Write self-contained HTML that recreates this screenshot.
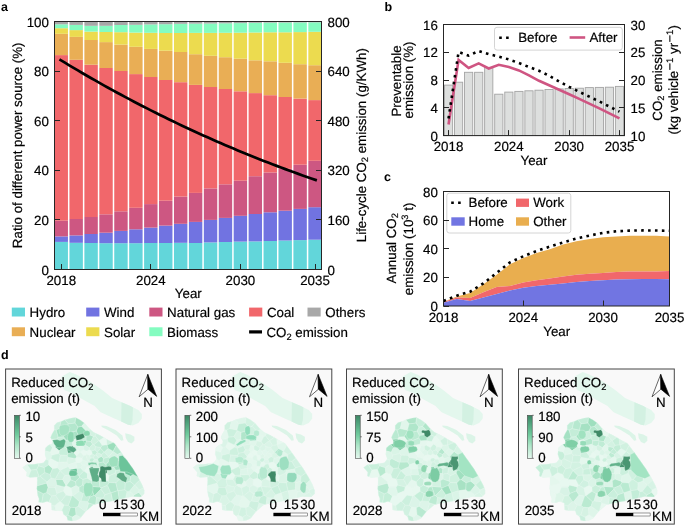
<!DOCTYPE html>
<html><head><meta charset="utf-8"><style>
html,body{margin:0;padding:0;background:#fff;}
svg{display:block;font-family:"Liberation Sans",sans-serif;will-change:transform;text-rendering:geometricPrecision;}
text{stroke:#000;stroke-width:0.18px;}
</style></head><body>
<svg width="685" height="526" viewBox="0 0 685 526">
<defs><linearGradient id="cbar" x1="0" y1="1" x2="0" y2="0"><stop offset="0" stop-color="#e4f7ee"/><stop offset="0.3" stop-color="#ade6c8"/><stop offset="0.55" stop-color="#70cb9d"/><stop offset="0.8" stop-color="#52a67f"/><stop offset="1" stop-color="#3c8664"/></linearGradient><g id="mapbase"><polygon points="54.3,425.4 57.1,422.5 61.1,421.4 65.1,419.7 71.4,418.0 75.4,417.4 79.9,419.7 84.5,423.1 89.0,428.3 93.6,432.2 100.0,435.3 104.0,437.5 108.5,440.2 114.6,443.4 121.4,452.6 127.1,460.5 132.8,468.5 138.0,477.1 142.0,484.5 144.2,490.2 144.2,493.7 140.8,497.1 132.2,496.6 123.0,498.6 113.8,500.7 102.6,502.7 93.4,504.7 85.2,511.9 80.0,518.5 76.2,520.2 71.1,521.1 67.7,520.2 66.8,516.8 63.4,514.2 62.5,510.8 55.7,510.4 51.8,510.0 51.4,503.1 47.1,501.4 42.8,502.7 38.6,502.3 39.0,498.8 37.7,495.4 36.8,488.6 37.3,480.0 36.9,477.1 30.2,477.5 26.4,476.1 26.9,472.3 24.5,469.5 22.6,467.6 26.4,464.7 34.0,464.2 43.5,462.8 46.4,459.0 44.9,454.3 45.4,448.1 48.3,445.2 52.1,443.8 52.5,441.0 50.5,437.4 52.0,434.0 54.3,430.0" fill="#dcf5e9" /><polygon points="60.5,383.8 61.8,376.5 69.7,371.9 76.3,374.6 89.4,381.1 102.6,390.3 112.1,398.0 123.5,403.1 130.4,406.0 138.3,410.0 141.8,414.0 141.8,418.5 138.3,423.1 132.6,425.4 128.1,424.8 121.2,421.4 112.1,417.4 100.7,412.2 94.7,406.1 82.8,399.5 72.3,393.0 64.5,390.3" fill="#e3f7ed" /><polygon points="121.5,402.2 130.4,406.0 133.0,407.5 132.5,420.0 131.0,425.2 128.1,424.8 121.2,421.4" fill="#d3f1e2" /><polygon points="101.3,425.4 106.4,425.9 115.5,429.9 122.4,435.6 123.5,440.2 121.2,440.8 116.7,435.6 108.7,430.5 101.8,427.0" fill="#dbf4e7" /><polygon points="125.2,433.3 130.4,434.5 134.4,436.8 134.4,440.8 131.5,443.6 128.1,441.9 125.8,437.9" fill="#dbf4e7" /></g><polygon id="v0" points="31.1,470.1 27.2,464.6 26.4,464.7 22.6,467.6 24.5,469.5 26.9,472.3 26.4,476.1 28.4,476.9"/><polygon id="v1" points="50.4,452.2 52.6,447.4 49.9,444.6 48.3,445.2 45.4,448.1 45.2,451.0"/><polygon id="v2" points="31.1,470.1 36.7,469.6 38.7,465.8 38.1,463.6 34.0,464.2 27.2,464.6"/><polygon id="v3" points="28.4,476.9 30.2,477.5 36.9,477.1 37.0,477.8 39.0,476.0 36.7,469.6 31.1,470.1"/><polygon id="v4" points="48.8,460.4 51.0,458.6 51.9,455.2 50.4,452.2 45.2,451.0 44.9,454.3 46.4,459.0 46.0,459.5"/><polygon id="v5" points="43.4,493.7 37.1,490.6 37.7,495.4 39.0,498.8 38.6,502.3 41.8,502.6"/><polygon id="v6" points="37.0,477.8 37.3,480.0 37.0,485.9 46.7,483.2 47.0,482.0 39.9,476.0 39.0,476.0"/><polygon id="v7" points="41.8,502.6 42.8,502.7 47.1,501.4 49.1,502.2 51.6,495.9 46.7,492.4 43.4,493.7"/><polygon id="v8" points="47.0,482.0 51.3,478.0 50.1,474.4 44.9,472.4 39.9,476.0"/><polygon id="v9" points="39.0,476.0 39.9,476.0 44.9,472.4 44.3,467.6 38.7,465.8 36.7,469.6"/><polygon id="v10" points="46.7,483.2 37.0,485.9 36.8,488.6 37.1,490.6 43.4,493.7 46.7,492.4 48.2,487.4"/><polygon id="v11" points="48.2,487.4 55.2,487.4 56.9,485.1 55.8,479.4 55.4,478.9 51.3,478.0 47.0,482.0 46.7,483.2"/><polygon id="v12" points="48.7,464.9 48.8,460.4 46.0,459.5 43.5,462.8 38.1,463.6 38.7,465.8 44.3,467.6"/><polygon id="v13" points="44.3,467.6 44.9,472.4 50.1,474.4 52.7,468.5 48.7,464.9"/><polygon id="v14" points="51.9,455.2 59.0,453.6 59.2,450.6 55.3,446.9 52.6,447.4 50.4,452.2"/><polygon id="v15" points="57.0,439.1 58.2,437.0 56.3,430.1 54.3,429.4 54.3,430.0 52.0,434.0 50.5,437.4 51.6,439.4"/><polygon id="v16" points="54.9,505.5 51.5,505.0 51.8,510.0 55.7,510.4 55.8,510.4"/><polygon id="v17" points="46.7,492.4 51.6,495.9 55.8,495.7 56.9,493.6 55.2,487.4 48.2,487.4"/><polygon id="v18" points="51.3,478.0 55.4,478.9 60.1,470.4 57.7,467.8 52.7,468.5 50.1,474.4"/><polygon id="v19" points="48.7,464.9 52.7,468.5 57.7,467.8 58.7,462.4 51.0,458.6 48.8,460.4"/><polygon id="v20" points="52.6,447.4 55.3,446.9 57.8,441.9 57.0,439.1 51.6,439.4 52.5,441.0 52.1,443.8 49.9,444.6"/><polygon id="v21" points="54.9,505.5 55.8,510.4 61.6,510.7 64.3,504.9 60.7,501.7 59.6,501.5"/><polygon id="v22" points="59.6,501.5 55.8,495.7 51.6,495.9 49.1,502.2 51.4,503.1 51.5,505.0 54.9,505.5"/><polygon id="v23" points="56.9,493.6 63.5,490.9 64.5,486.9 56.9,485.1 55.2,487.4"/><polygon id="v24" points="59.2,450.6 64.6,446.9 64.1,445.0 57.8,441.9 55.3,446.9"/><polygon id="v25" points="56.3,430.1 59.4,428.5 61.1,421.4 57.1,422.5 54.3,425.4 54.3,429.4"/><polygon id="v26" points="56.9,485.1 64.5,486.9 66.0,485.5 62.7,479.4 55.8,479.4"/><polygon id="v27" points="57.0,439.1 57.8,441.9 64.1,445.0 66.4,440.2 63.5,436.6 58.2,437.0"/><polygon id="v28" points="51.0,458.6 58.7,462.4 59.1,462.1 60.3,455.2 59.0,453.6 51.9,455.2"/><polygon id="v29" points="55.8,495.7 59.6,501.5 60.7,501.7 66.2,495.0 63.5,490.9 56.9,493.6"/><polygon id="v30" points="55.8,479.4 62.7,479.4 64.9,475.4 60.1,470.4 60.1,470.4 55.4,478.9"/><polygon id="v31" points="57.7,467.8 60.1,470.4 60.1,470.4 68.4,466.5 68.5,464.8 67.0,462.0 59.1,462.1 58.7,462.4"/><polygon id="v32" points="68.2,423.9 75.1,423.1 75.7,417.6 75.4,417.4 71.4,418.0 65.1,419.7 64.9,419.8"/><polygon id="v33" points="68.0,515.1 70.5,507.3 68.4,505.4 64.3,504.9 61.6,510.7 62.5,510.8 63.4,514.2 65.8,516.1"/><polygon id="v34" points="64.3,504.9 68.4,505.4 71.8,496.1 66.2,495.0 60.7,501.7"/><polygon id="v35" points="60.3,455.2 67.4,455.5 68.2,453.4 66.8,448.2 64.6,446.9 59.2,450.6 59.0,453.6"/><polygon id="v36" points="58.2,437.0 63.5,436.6 67.0,430.7 66.6,430.1 59.4,428.5 56.3,430.1"/><polygon id="v37" points="59.1,462.1 67.0,462.0 68.1,457.3 67.4,455.5 60.3,455.2"/><polygon id="v38" points="66.0,485.5 66.4,485.4 70.8,479.7 70.0,475.0 64.9,475.4 62.7,479.4"/><polygon id="v39" points="64.5,486.9 63.5,490.9 66.2,495.0 71.8,496.1 72.6,495.7 71.2,488.0 66.4,485.4 66.0,485.5"/><polygon id="v40" points="66.4,440.2 70.5,439.5 70.7,432.4 67.0,430.7 63.5,436.6"/><polygon id="v41" points="67.0,462.0 68.5,464.8 76.0,462.3 75.6,458.5 68.1,457.3"/><polygon id="v42" points="64.9,475.4 70.0,475.0 70.1,474.9 70.4,469.5 68.4,466.5 60.1,470.4"/><polygon id="v43" points="68.2,453.4 73.6,452.2 74.9,449.7 73.0,445.4 72.9,445.4 66.8,448.2"/><polygon id="v44" points="64.6,446.9 66.8,448.2 72.9,445.4 72.0,440.5 70.5,439.5 66.4,440.2 64.1,445.0"/><polygon id="v45" points="66.6,430.1 68.2,423.9 64.9,419.8 61.1,421.4 61.1,421.4 59.4,428.5"/><polygon id="v46" points="72.3,517.1 68.0,515.1 65.8,516.1 66.8,516.8 67.7,520.2 71.1,521.1 73.0,520.8"/><polygon id="v47" points="68.4,505.4 70.5,507.3 75.5,507.7 78.3,506.2 79.6,501.8 73.2,495.8 72.6,495.7 71.8,496.1"/><polygon id="v48" points="68.0,515.1 72.3,517.1 76.1,514.8 75.5,507.7 70.5,507.3"/><polygon id="v49" points="70.7,432.4 76.3,431.0 78.1,427.0 75.1,423.1 68.2,423.9 66.6,430.1 67.0,430.7"/><polygon id="v50" points="68.1,457.3 75.6,458.5 76.7,456.9 76.7,456.3 73.6,452.2 68.2,453.4 67.4,455.5"/><polygon id="v51" points="70.5,439.5 72.0,440.5 78.1,438.0 78.5,435.4 76.3,431.0 70.7,432.4"/><polygon id="v52" points="68.4,466.5 70.4,469.5 76.9,468.4 76.5,462.7 76.0,462.3 68.5,464.8"/><polygon id="v53" points="76.1,514.8 72.3,517.1 73.0,520.8 76.2,520.2 80.0,518.5 80.9,517.4"/><polygon id="v54" points="76.3,431.0 78.5,435.4 86.1,434.6 86.9,433.6 87.0,431.7 81.7,426.3 78.1,427.0"/><polygon id="v55" points="70.1,474.9 78.0,474.8 76.9,468.5 76.9,468.4 70.4,469.5"/><polygon id="v56" points="66.4,485.4 71.2,488.0 76.2,485.6 75.5,481.8 70.8,479.7"/><polygon id="v57" points="72.6,495.7 73.2,495.8 79.3,491.2 79.1,487.3 76.2,485.6 71.2,488.0"/><polygon id="v58" points="79.6,501.8 81.2,500.9 83.3,493.7 79.3,491.2 73.2,495.8"/><polygon id="v59" points="76.0,462.3 76.5,462.7 80.8,462.7 82.6,459.9 82.1,458.0 76.7,456.9 75.6,458.5"/><polygon id="v60" points="72.9,445.4 73.0,445.4 79.4,444.2 79.8,440.7 78.1,438.0 72.0,440.5"/><polygon id="v61" points="76.1,514.8 80.9,517.4 85.2,511.9 85.6,511.5 78.3,506.2 75.5,507.7"/><polygon id="v62" points="70.0,475.0 70.8,479.7 75.5,481.8 79.7,477.5 79.1,475.7 78.0,474.8 70.1,474.9"/><polygon id="v63" points="75.1,423.1 78.1,427.0 81.7,426.3 84.4,423.0 79.9,419.7 75.7,417.6"/><polygon id="v64" points="73.6,452.2 76.7,456.3 80.2,451.9 78.7,449.9 74.9,449.7"/><polygon id="v65" points="75.5,481.8 76.2,485.6 79.1,487.3 82.7,485.1 83.0,479.5 79.7,477.5"/><polygon id="v66" points="76.9,468.4 76.9,468.5 80.9,468.1 82.4,465.1 80.8,462.7 76.5,462.7"/><polygon id="v67" points="79.1,475.7 83.7,471.2 80.9,468.1 76.9,468.5 78.0,474.8"/><polygon id="v68" points="88.6,503.0 86.4,510.8 93.4,504.7 94.2,504.5"/><polygon id="v69" points="80.2,451.9 80.5,452.0 83.8,449.8 83.4,446.2 80.2,445.3 78.7,449.9"/><polygon id="v70" points="74.9,449.7 78.7,449.9 80.2,445.3 79.4,444.2 73.0,445.4"/><polygon id="v71" points="79.7,477.5 83.0,479.5 87.3,478.2 87.6,473.7 84.5,471.2 83.7,471.2 79.1,475.7"/><polygon id="v72" points="83.4,446.2 85.3,445.2 86.4,440.7 86.1,440.3 79.8,440.7 79.4,444.2 80.2,445.3"/><polygon id="v73" points="78.3,506.2 85.6,511.5 86.4,510.8 88.6,503.0 87.9,501.7 81.2,500.9 79.6,501.8"/><polygon id="v74" points="79.3,491.2 83.3,493.7 85.1,493.3 87.9,487.5 82.7,485.1 79.1,487.3"/><polygon id="v75" points="82.4,465.1 86.2,465.2 86.4,461.1 82.6,459.9 80.8,462.7"/><polygon id="v76" points="76.7,456.9 82.1,458.0 83.7,455.7 80.5,452.0 80.2,451.9 76.7,456.3"/><polygon id="v77" points="83.7,455.7 86.1,455.1 86.6,454.6 87.0,451.3 83.8,449.8 80.5,452.0"/><polygon id="v78" points="82.6,459.9 86.4,461.1 87.5,460.2 86.1,455.1 83.7,455.7 82.1,458.0"/><polygon id="v79" points="80.9,468.1 83.7,471.2 84.5,471.2 87.2,466.2 86.2,465.2 82.4,465.1"/><polygon id="v80" points="78.1,438.0 79.8,440.7 86.1,440.3 86.1,434.6 78.5,435.4"/><polygon id="v81" points="81.7,426.3 87.0,431.7 90.1,429.3 89.0,428.3 84.5,423.1 84.4,423.0"/><polygon id="v82" points="85.3,445.2 89.5,447.8 92.6,444.2 91.0,441.6 86.4,440.7"/><polygon id="v83" points="87.0,451.3 89.4,449.4 89.5,447.8 85.3,445.2 83.4,446.2 83.8,449.8"/><polygon id="v84" points="83.3,493.7 81.2,500.9 87.9,501.7 90.2,496.8 85.1,493.3"/><polygon id="v85" points="87.6,473.7 90.3,472.1 90.3,466.9 89.8,466.6 87.2,466.2 84.5,471.2"/><polygon id="v86" points="82.7,485.1 87.9,487.5 90.9,486.6 91.1,486.4 91.5,480.7 87.3,478.2 83.0,479.5"/><polygon id="v87" points="87.2,466.2 89.8,466.6 90.9,462.0 89.3,460.2 87.5,460.2 86.4,461.1 86.2,465.2"/><polygon id="v88" points="88.6,503.0 94.2,504.5 95.8,504.2 96.6,497.6 94.8,495.5 94.0,495.3 90.2,496.8 87.9,501.7"/><polygon id="v89" points="86.6,454.6 89.7,455.5 92.3,453.9 91.7,451.0 89.4,449.4 87.0,451.3"/><polygon id="v90" points="86.1,455.1 87.5,460.2 89.3,460.2 90.6,458.2 89.7,455.5 86.6,454.6"/><polygon id="v91" points="86.1,434.6 86.1,440.3 86.4,440.7 91.0,441.6 93.5,436.4 86.9,433.6"/><polygon id="v92" points="87.9,487.5 85.1,493.3 90.2,496.8 94.0,495.3 90.9,486.6"/><polygon id="v93" points="106.7,444.7 107.1,445.0 113.1,442.6 108.5,440.2 106.3,438.9"/><polygon id="v94" points="91.5,480.7 94.8,478.7 95.5,473.7 90.3,472.1 87.6,473.7 87.3,478.2"/><polygon id="v95" points="89.4,449.4 91.7,451.0 95.1,449.9 95.5,446.5 94.1,444.5 92.6,444.2 89.5,447.8"/><polygon id="v96" points="90.6,458.2 93.5,458.1 94.5,455.1 92.3,453.9 89.7,455.5"/><polygon id="v97" points="90.9,486.6 94.0,495.3 94.8,495.5 101.0,489.1 101.0,488.1 99.9,487.0 91.1,486.4"/><polygon id="v98" points="92.6,444.2 94.1,444.5 99.0,440.6 95.2,435.8 93.5,436.4 91.0,441.6"/><polygon id="v99" points="86.9,433.6 93.5,436.4 95.2,435.8 96.3,433.5 93.6,432.2 90.1,429.3 87.0,431.7"/><polygon id="v100" points="89.8,466.6 90.3,466.9 92.9,466.8 95.5,464.2 93.3,461.6 90.9,462.0"/><polygon id="v101" points="103.5,498.3 96.6,497.6 95.8,504.2 102.6,502.7 105.5,502.2"/><polygon id="v102" points="118.0,490.7 117.7,490.5 110.9,492.8 112.6,500.9 113.8,500.7 119.4,499.4"/><polygon id="v103" points="96.6,497.6 103.5,498.3 104.9,494.7 101.0,489.1 94.8,495.5"/><polygon id="v104" points="89.3,460.2 90.9,462.0 93.3,461.6 94.2,459.3 93.5,458.1 90.6,458.2"/><polygon id="v105" points="94.2,459.3 97.8,459.6 98.5,457.9 95.8,454.7 94.5,455.1 93.5,458.1"/><polygon id="v106" points="95.2,435.8 99.0,440.6 99.3,440.7 103.8,437.4 100.0,435.3 96.3,433.5"/><polygon id="v107" points="92.3,453.9 94.5,455.1 95.8,454.7 97.3,452.4 97.3,452.2 95.1,449.9 91.7,451.0"/><polygon id="v108" points="90.3,472.1 95.5,473.7 95.5,473.7 95.9,470.3 92.9,466.8 90.3,466.9"/><polygon id="v109" points="95.5,464.2 98.2,463.9 98.9,462.9 97.8,459.6 94.2,459.3 93.3,461.6"/><polygon id="v110" points="91.1,486.4 99.9,487.0 99.4,480.7 94.8,478.7 91.5,480.7"/><polygon id="v111" points="92.9,466.8 95.9,470.3 99.3,467.4 98.2,463.9 95.5,464.2"/><polygon id="v112" points="95.1,449.9 97.3,452.2 100.8,448.3 100.8,447.5 95.5,446.5"/><polygon id="v113" points="95.5,473.7 101.6,473.5 101.9,468.7 99.3,467.4 95.9,470.3"/><polygon id="v114" points="98.5,457.9 101.6,456.5 101.8,454.5 97.3,452.4 95.8,454.7"/><polygon id="v115" points="97.3,452.4 101.8,454.5 104.0,452.2 100.8,448.3 97.3,452.2"/><polygon id="v116" points="97.8,459.6 98.9,462.9 103.1,462.0 103.5,458.6 101.6,456.5 98.5,457.9"/><polygon id="v117" points="94.8,478.7 99.4,480.7 102.2,479.1 102.3,474.1 101.6,473.5 95.5,473.7 95.5,473.7"/><polygon id="v118" points="98.2,463.9 99.3,467.4 101.9,468.7 106.6,466.7 106.1,464.5 103.1,462.0 98.9,462.9"/><polygon id="v119" points="95.5,446.5 100.8,447.5 102.2,445.2 99.3,440.7 99.0,440.6 94.1,444.5"/><polygon id="v120" points="100.8,448.3 104.0,452.2 104.4,452.2 108.2,448.4 107.1,445.0 106.7,444.7 102.2,445.2 100.8,447.5"/><polygon id="v121" points="99.9,487.0 101.0,488.1 107.6,485.3 109.1,482.5 108.4,481.2 102.2,479.1 99.4,480.7"/><polygon id="v122" points="133.8,494.9 129.6,491.2 127.0,491.4 125.6,498.0 132.2,496.6 133.7,496.7"/><polygon id="v123" points="105.5,502.2 112.6,500.9 110.9,492.8 110.7,492.7 104.9,494.7 103.5,498.3"/><polygon id="v124" points="104.9,494.7 110.7,492.7 107.6,485.3 101.0,488.1 101.0,489.1"/><polygon id="v125" points="102.2,445.2 106.7,444.7 106.3,438.9 104.0,437.5 103.8,437.4 99.3,440.7"/><polygon id="v126" points="101.6,473.5 102.3,474.1 107.1,473.5 107.7,467.6 106.6,466.7 101.9,468.7"/><polygon id="v127" points="101.6,456.5 103.5,458.6 108.8,456.9 108.8,456.4 104.4,452.2 104.0,452.2 101.8,454.5"/><polygon id="v128" points="104.4,452.2 108.8,456.4 113.3,451.5 113.2,451.3 108.2,448.4"/><polygon id="v129" points="107.7,467.6 114.2,467.6 115.7,461.8 110.0,459.5 106.1,464.5 106.6,466.7"/><polygon id="v130" points="102.2,479.1 108.4,481.2 109.2,475.7 107.1,473.5 102.3,474.1"/><polygon id="v131" points="103.1,462.0 106.1,464.5 110.0,459.5 108.8,456.9 103.5,458.6"/><polygon id="v132" points="109.1,482.5 115.9,482.9 118.9,479.7 115.4,472.9 109.2,475.7 108.4,481.2"/><polygon id="v133" points="107.1,473.5 109.2,475.7 115.4,472.9 115.9,470.4 114.2,467.6 107.7,467.6"/><polygon id="v134" points="107.6,485.3 110.7,492.7 110.9,492.8 117.7,490.5 115.9,482.9 109.1,482.5"/><polygon id="v135" points="108.8,456.9 110.0,459.5 115.7,461.8 117.5,460.5 117.5,454.6 113.3,451.5 108.8,456.4"/><polygon id="v136" points="108.2,448.4 113.2,451.3 116.2,445.5 114.6,443.4 113.1,442.6 107.1,445.0"/><polygon id="v137" points="115.9,470.4 124.3,469.1 125.1,467.7 121.5,461.5 117.5,460.5 115.7,461.8 114.2,467.6"/><polygon id="v138" points="113.2,451.3 113.3,451.5 117.5,454.6 121.4,452.6 121.4,452.6 116.2,445.5"/><polygon id="v139" points="115.9,482.9 117.7,490.5 118.0,490.7 124.9,489.8 125.3,482.8 120.5,479.6 118.9,479.7"/><polygon id="v140" points="115.4,472.9 118.9,479.7 120.5,479.6 125.3,473.7 124.3,469.1 115.9,470.4"/><polygon id="v141" points="119.4,499.4 123.0,498.6 125.6,498.0 127.0,491.4 124.9,489.8 118.0,490.7"/><polygon id="v142" points="121.5,461.5 125.4,458.2 121.4,452.6 117.5,454.6 117.5,460.5"/><polygon id="v143" points="120.5,479.6 125.3,482.8 130.0,481.3 130.8,476.2 125.3,473.7"/><polygon id="v144" points="124.3,469.1 125.3,473.7 130.8,476.2 135.5,473.0 132.8,468.5 130.9,465.9 125.1,467.7"/><polygon id="v145" points="121.5,461.5 125.1,467.7 130.9,465.9 127.1,460.5 125.4,458.2"/><polygon id="v146" points="124.9,489.8 127.0,491.4 129.6,491.2 134.5,485.0 130.0,481.3 125.3,482.8"/><polygon id="v147" points="134.5,485.0 134.6,485.0 139.7,480.2 138.0,477.1 135.5,473.0 130.8,476.2 130.0,481.3"/><polygon id="v148" points="138.8,492.2 133.8,494.9 133.7,496.7 140.8,497.1 141.9,496.0"/><polygon id="v149" points="134.6,485.0 139.2,490.0 143.4,488.1 142.0,484.5 139.7,480.2"/><polygon id="v150" points="129.6,491.2 133.8,494.9 138.8,492.2 139.2,490.0 134.6,485.0 134.5,485.0"/><polygon id="v151" points="139.2,490.0 138.8,492.2 141.9,496.0 144.2,493.7 144.2,490.2 143.4,488.1"/><g id="dist0" stroke="#e9f8f0" stroke-width="0.3"><use href="#v0" fill="#e3f7ed"/><use href="#v1" fill="#cdf0de"/><use href="#v2" fill="#c6eeda"/><use href="#v3" fill="#cdf0de"/><use href="#v4" fill="#e0f6eb"/><use href="#v5" fill="#c0ecd6"/><use href="#v6" fill="#ccf0de"/><use href="#v7" fill="#c6eeda"/><use href="#v8" fill="#caefdd"/><use href="#v9" fill="#c4eed8"/><use href="#v10" fill="#a7e2c4"/><use href="#v11" fill="#dcf4e8"/><use href="#v12" fill="#d0f1e1"/><use href="#v13" fill="#b2e7cc"/><use href="#v14" fill="#e6f7ee"/><use href="#v15" fill="#c1edd6"/><use href="#v16" fill="#dcf4e8"/><use href="#v17" fill="#d2f1e1"/><use href="#v18" fill="#caefdc"/><use href="#v19" fill="#e8f8f0"/><use href="#v20" fill="#e0f6eb"/><use href="#v21" fill="#e7f8ef"/><use href="#v22" fill="#d5f2e3"/><use href="#v23" fill="#dcf4e8"/><use href="#v24" fill="#5fb38b"/><use href="#v25" fill="#cef0df"/><use href="#v26" fill="#b1e6cb"/><use href="#v27" fill="#caefdc"/><use href="#v28" fill="#cdf0de"/><use href="#v29" fill="#d1f1e1"/><use href="#v30" fill="#d1f1e1"/><use href="#v31" fill="#e2f6ec"/><use href="#v32" fill="#c0ecd6"/><use href="#v33" fill="#cbf0dd"/><use href="#v34" fill="#cef0df"/><use href="#v35" fill="#c8efdb"/><use href="#v36" fill="#a6e3c4"/><use href="#v37" fill="#d6f3e4"/><use href="#v38" fill="#dbf4e8"/><use href="#v39" fill="#e8f8f0"/><use href="#v40" fill="#a0dfbf"/><use href="#v41" fill="#dbf4e7"/><use href="#v42" fill="#d2f2e2"/><use href="#v43" fill="#59a985"/><use href="#v44" fill="#c4eed9"/><use href="#v45" fill="#b8e9d0"/><use href="#v46" fill="#c0ecd6"/><use href="#v47" fill="#bcebd3"/><use href="#v48" fill="#aee5c9"/><use href="#v49" fill="#b3e7cd"/><use href="#v50" fill="#b2e7cc"/><use href="#v51" fill="#a8e3c5"/><use href="#v52" fill="#e3f6ed"/><use href="#v53" fill="#dff5ea"/><use href="#v54" fill="#94dbb7"/><use href="#v55" fill="#6cc49a"/><use href="#v56" fill="#bbead2"/><use href="#v57" fill="#def5e9"/><use href="#v58" fill="#d5f3e4"/><use href="#v59" fill="#e8f8f0"/><use href="#v60" fill="#e1f6eb"/><use href="#v61" fill="#d1f1e1"/><use href="#v62" fill="#b4e7cd"/><use href="#v63" fill="#a9e3c5"/><use href="#v64" fill="#e7f8ef"/><use href="#v65" fill="#beebd4"/><use href="#v66" fill="#ddf5e9"/><use href="#v67" fill="#ccf0de"/><use href="#v68" fill="#c5eed9"/><use href="#v69" fill="#e0f6eb"/><use href="#v70" fill="#e0f6eb"/><use href="#v71" fill="#c7efdb"/><use href="#v72" fill="#8cdcb3"/><use href="#v73" fill="#daf4e7"/><use href="#v74" fill="#bcead3"/><use href="#v75" fill="#e0f6eb"/><use href="#v76" fill="#def5e9"/><use href="#v77" fill="#e8f8f0"/><use href="#v78" fill="#dbf4e7"/><use href="#v79" fill="#e0f6eb"/><use href="#v80" fill="#c4eed8"/><use href="#v81" fill="#def5e9"/><use href="#v82" fill="#beebd4"/><use href="#v83" fill="#d8f3e6"/><use href="#v84" fill="#c6eeda"/><use href="#v85" fill="#e8f8f0"/><use href="#v86" fill="#c9efdb"/><use href="#v87" fill="#dff5ea"/><use href="#v88" fill="#b8e9d0"/><use href="#v89" fill="#e8f8f0"/><use href="#v90" fill="#ddf5e8"/><use href="#v91" fill="#b3e7cd"/><use href="#v92" fill="#a0e2c0"/><use href="#v93" fill="#d0f1e0"/><use href="#v94" fill="#e2f6ec"/><use href="#v95" fill="#d2f2e1"/><use href="#v96" fill="#d6f3e4"/><use href="#v97" fill="#96dcb8"/><use href="#v98" fill="#cff1df"/><use href="#v99" fill="#d3f2e2"/><use href="#v100" fill="#caefdc"/><use href="#v101" fill="#cef1df"/><use href="#v102" fill="#b6e8ce"/><use href="#v103" fill="#c9efdc"/><use href="#v104" fill="#c5eed9"/><use href="#v105" fill="#d1f1e1"/><use href="#v106" fill="#cef0df"/><use href="#v107" fill="#c6eed9"/><use href="#v108" fill="#5fae88"/><use href="#v109" fill="#d9f4e6"/><use href="#v110" fill="#bcebd3"/><use href="#v111" fill="#d2f2e2"/><use href="#v112" fill="#d0f1e1"/><use href="#v113" fill="#d7f3e5"/><use href="#v114" fill="#d6f3e4"/><use href="#v115" fill="#c4eed8"/><use href="#v116" fill="#abe4c7"/><use href="#v117" fill="#e6f7ef"/><use href="#v118" fill="#b6e8ce"/><use href="#v119" fill="#c6eeda"/><use href="#v120" fill="#bdebd4"/><use href="#v121" fill="#c3edd7"/><use href="#v122" fill="#dcf5e8"/><use href="#v123" fill="#cdf0de"/><use href="#v124" fill="#caefdc"/><use href="#v125" fill="#e8f8f0"/><use href="#v126" fill="#3f8a67"/><use href="#v127" fill="#cdf0de"/><use href="#v128" fill="#d5f3e4"/><use href="#v129" fill="#9ee0be"/><use href="#v130" fill="#e8f8f0"/><use href="#v131" fill="#c1ecd6"/><use href="#v132" fill="#cdf0de"/><use href="#v133" fill="#cbf0dd"/><use href="#v134" fill="#b5e8ce"/><use href="#v135" fill="#d6f3e4"/><use href="#v136" fill="#9cdebc"/><use href="#v137" fill="#a4e1c2"/><use href="#v138" fill="#b9e9d1"/><use href="#v139" fill="#c4eed8"/><use href="#v140" fill="#cbf0dd"/><use href="#v141" fill="#c8efdb"/><use href="#v142" fill="#d2f2e2"/><use href="#v143" fill="#bcebd3"/><use href="#v144" fill="#6cc49a"/><use href="#v145" fill="#6cc49a"/><use href="#v146" fill="#c3edd8"/><use href="#v147" fill="#c6eeda"/><use href="#v148" fill="#b9e9d0"/><use href="#v149" fill="#d3f2e2"/><use href="#v150" fill="#d9f4e6"/><use href="#v151" fill="#d9f4e6"/><polygon points="75.5,436.0 76.5,440.6 81.0,439.5 84.8,437.3 83.6,433.3 78.0,434.8" fill="#3f8a67" /><polygon points="52.5,440.0 54.0,444.0 57.0,447.5 62.0,448.2 64.5,446.0 65.7,441.0 64.0,439.0 60.0,440.5 57.0,439.5" fill="#5fb38b" /><polygon points="66.2,447.0 68.0,450.0 73.5,452.8 76.5,450.0 75.0,447.5 70.0,446.0" fill="#59a985" /><polygon points="90.0,433.5 89.8,432.1 88.6,431.0 87.3,430.6 84.6,431.0 83.8,431.8 83.7,433.3 83.7,434.5 85.0,436.0 86.3,436.1 88.7,435.8 89.8,435.1" fill="#8ad8b0" /><polygon points="84.4,443.3 83.9,441.6 82.3,440.4 80.5,440.4 77.5,440.9 75.8,441.9 76.2,443.5 75.7,444.9 77.4,446.0 80.0,446.1 82.9,445.9 84.2,444.6" fill="#8cdcb3" /><polygon points="73.9,436.5 73.8,433.5 72.6,431.9 70.5,431.6 69.1,432.1 68.0,434.6 67.4,436.6 67.6,439.5 69.5,442.3 70.7,442.3 72.1,442.2 73.8,440.8" fill="#8fd9b3" /><polygon points="69.4,430.8 69.8,427.3 67.3,424.8 64.2,424.6 60.7,425.5 59.3,426.7 59.1,430.1 59.6,433.5 61.2,435.5 63.7,435.5 66.1,434.8 68.8,432.0" fill="#a6e3c4" /><polygon points="89.0,468.0 89.8,471.7 91.3,476.8 92.4,481.4 97.0,482.0 99.0,480.8 99.3,476.8 97.8,474.5 99.0,470.5 99.3,468.0" fill="#5fae88" /><polygon points="100.1,466.8 100.1,470.3 99.0,472.8 98.7,476.8 101.0,478.5 101.5,481.7 106.1,482.0 105.8,472.8 105.5,470.3 110.1,470.3 111.8,469.4 111.2,466.6 108.4,466.3 105.0,467.1 102.1,466.0" fill="#3f8a67" /><polygon points="119.1,456.0 118.6,465.1 120.3,471.4 127.1,472.0 132.8,474.2 138.0,477.1 132.8,468.5 127.1,460.5 122.6,455.4" fill="#6cc49a" /><polygon points="117.0,474.0 116.5,477.0 119.0,478.5 122.0,481.0 126.0,482.5 127.3,478.0 125.0,476.0 124.0,473.0 120.0,472.4" fill="#5faa85" /><polygon points="118.1,461.9 118.5,458.7 115.6,456.4 114.3,456.0 111.9,456.8 108.9,458.7 108.7,461.5 109.1,464.3 111.5,466.7 113.4,466.7 116.9,466.4 117.8,464.4" fill="#9ee0be" /><polygon points="77.1,473.3 76.5,471.5 75.6,470.9 72.9,470.4 70.9,470.6 69.4,471.3 68.9,473.7 69.2,474.9 70.5,476.1 72.9,476.1 74.7,476.1 76.8,475.4" fill="#6cc49a" /><polygon points="93.1,489.8 92.7,485.0 90.3,482.6 88.8,483.0 86.3,482.6 83.9,484.8 83.4,489.6 84.3,494.1 85.8,497.0 87.8,496.4 90.1,496.1 92.2,493.2" fill="#a0e2c0" /><polygon points="88.1,462.8 88.3,465.0 89.5,465.5 91.0,464.3 95.0,464.2 97.0,465.8 96.5,462.8 92.0,462.3" fill="#7fcca6" /></g><g id="dist1" stroke="#e9f8f0" stroke-width="0.3"><use href="#v0" fill="#e2f6ec"/><use href="#v1" fill="#e8f8f0"/><use href="#v2" fill="#d5f3e4"/><use href="#v3" fill="#d6f3e4"/><use href="#v4" fill="#ddf5e9"/><use href="#v5" fill="#d7f3e5"/><use href="#v6" fill="#cef1df"/><use href="#v7" fill="#d1f1e1"/><use href="#v8" fill="#d7f3e5"/><use href="#v9" fill="#a0e2c4"/><use href="#v10" fill="#e3f7ed"/><use href="#v11" fill="#d2f2e2"/><use href="#v12" fill="#e8f8f0"/><use href="#v13" fill="#def5ea"/><use href="#v14" fill="#def5ea"/><use href="#v15" fill="#e5f7ee"/><use href="#v16" fill="#dbf4e8"/><use href="#v17" fill="#cbf0dd"/><use href="#v18" fill="#a0e2c4"/><use href="#v19" fill="#e5f7ee"/><use href="#v20" fill="#dbf4e8"/><use href="#v21" fill="#d3f2e2"/><use href="#v22" fill="#d9f4e6"/><use href="#v23" fill="#daf4e7"/><use href="#v24" fill="#e7f8ef"/><use href="#v25" fill="#d0f1e0"/><use href="#v26" fill="#d6f3e4"/><use href="#v27" fill="#c8efdb"/><use href="#v28" fill="#cdf0de"/><use href="#v29" fill="#d4f2e3"/><use href="#v30" fill="#e8f8f0"/><use href="#v31" fill="#e7f8f0"/><use href="#v32" fill="#dff5ea"/><use href="#v33" fill="#d8f3e5"/><use href="#v34" fill="#e1f6ec"/><use href="#v35" fill="#cef1df"/><use href="#v36" fill="#ccf0de"/><use href="#v37" fill="#d7f3e5"/><use href="#v38" fill="#d3f2e2"/><use href="#v39" fill="#d7f3e5"/><use href="#v40" fill="#d9f4e6"/><use href="#v41" fill="#c4eed8"/><use href="#v42" fill="#cdf0de"/><use href="#v43" fill="#ccf0de"/><use href="#v44" fill="#ddf5e9"/><use href="#v45" fill="#e2f6ec"/><use href="#v46" fill="#e8f8f0"/><use href="#v47" fill="#e4f7ed"/><use href="#v48" fill="#d2f2e2"/><use href="#v49" fill="#c3edd8"/><use href="#v50" fill="#cef0df"/><use href="#v51" fill="#b1e6cb"/><use href="#v52" fill="#d6f3e4"/><use href="#v53" fill="#d7f3e5"/><use href="#v54" fill="#d1f1e1"/><use href="#v55" fill="#ddf5e9"/><use href="#v56" fill="#e5f7ee"/><use href="#v57" fill="#d5f3e4"/><use href="#v58" fill="#d7f3e5"/><use href="#v59" fill="#e4f7ed"/><use href="#v60" fill="#dbf4e7"/><use href="#v61" fill="#d6f3e4"/><use href="#v62" fill="#cef1df"/><use href="#v63" fill="#d3f2e2"/><use href="#v64" fill="#dcf5e8"/><use href="#v65" fill="#dff5ea"/><use href="#v66" fill="#def5ea"/><use href="#v67" fill="#ddf5e9"/><use href="#v68" fill="#ddf5e9"/><use href="#v69" fill="#e4f7ed"/><use href="#v70" fill="#d8f3e5"/><use href="#v71" fill="#cef1df"/><use href="#v72" fill="#e0f6eb"/><use href="#v73" fill="#cef0df"/><use href="#v74" fill="#daf4e7"/><use href="#v75" fill="#e3f7ed"/><use href="#v76" fill="#e8f8f0"/><use href="#v77" fill="#e8f8f0"/><use href="#v78" fill="#ddf5e9"/><use href="#v79" fill="#e5f7ee"/><use href="#v80" fill="#91debc"/><use href="#v81" fill="#d2f2e2"/><use href="#v82" fill="#d8f3e5"/><use href="#v83" fill="#d2f2e2"/><use href="#v84" fill="#d9f4e6"/><use href="#v85" fill="#e8f8f0"/><use href="#v86" fill="#e7f8f0"/><use href="#v87" fill="#d5f3e4"/><use href="#v88" fill="#c7eeda"/><use href="#v89" fill="#e1f6ec"/><use href="#v90" fill="#e8f8f0"/><use href="#v91" fill="#e3f7ed"/><use href="#v92" fill="#cef1df"/><use href="#v93" fill="#e8f8f0"/><use href="#v94" fill="#b7e9d1"/><use href="#v95" fill="#daf4e7"/><use href="#v96" fill="#def5e9"/><use href="#v97" fill="#d3f2e2"/><use href="#v98" fill="#d1f1e1"/><use href="#v99" fill="#e2f6ec"/><use href="#v100" fill="#e6f7ef"/><use href="#v101" fill="#ddf5e9"/><use href="#v102" fill="#d7f3e5"/><use href="#v103" fill="#d6f3e4"/><use href="#v104" fill="#ccf0de"/><use href="#v105" fill="#e1f6eb"/><use href="#v106" fill="#d5f2e3"/><use href="#v107" fill="#e1f6ec"/><use href="#v108" fill="#b7e9d1"/><use href="#v109" fill="#def5ea"/><use href="#v110" fill="#d9f4e6"/><use href="#v111" fill="#ccf0dd"/><use href="#v112" fill="#ddf5e9"/><use href="#v113" fill="#cbf0dd"/><use href="#v114" fill="#e1f6eb"/><use href="#v115" fill="#dff5ea"/><use href="#v116" fill="#d0f1e0"/><use href="#v117" fill="#e8f8f0"/><use href="#v118" fill="#e8f8f0"/><use href="#v119" fill="#daf4e7"/><use href="#v120" fill="#d6f3e4"/><use href="#v121" fill="#d0f1e0"/><use href="#v122" fill="#ddf5e9"/><use href="#v123" fill="#e4f7ed"/><use href="#v124" fill="#c9efdc"/><use href="#v125" fill="#d6f3e4"/><use href="#v126" fill="#e5f7ee"/><use href="#v127" fill="#daf4e6"/><use href="#v128" fill="#b1e7ce"/><use href="#v129" fill="#9ddfc1"/><use href="#v130" fill="#e5f7ee"/><use href="#v131" fill="#def5ea"/><use href="#v132" fill="#dbf4e7"/><use href="#v133" fill="#d4f2e3"/><use href="#v134" fill="#ccf0de"/><use href="#v135" fill="#e1f6eb"/><use href="#v136" fill="#e0f6eb"/><use href="#v137" fill="#c9efdc"/><use href="#v138" fill="#d2f2e2"/><use href="#v139" fill="#c9efdb"/><use href="#v140" fill="#dff6ea"/><use href="#v141" fill="#e2f6ec"/><use href="#v142" fill="#ccf0de"/><use href="#v143" fill="#dbf4e8"/><use href="#v144" fill="#cef1df"/><use href="#v145" fill="#d2f2e2"/><use href="#v146" fill="#def5e9"/><use href="#v147" fill="#c9efdb"/><use href="#v148" fill="#daf4e7"/><use href="#v149" fill="#dff5ea"/><use href="#v150" fill="#dcf4e8"/><use href="#v151" fill="#d8f3e6"/><polygon points="100.4,471.2 100.0,472.3 98.3,473.3 97.3,475.2 98.9,476.5 100.0,479.0 100.2,481.7 103.1,481.9 105.6,482.3 105.2,477.7 105.6,474.4 105.2,471.2" fill="#3f8a67" /><polygon points="79.9,430.6 79.8,428.1 78.7,425.9 77.6,425.9 75.9,426.5 74.6,427.9 74.6,430.3 74.5,432.2 75.9,435.0 76.9,435.2 78.8,434.4 79.7,433.3" fill="#91debc" /><polygon points="85.9,437.4 86.0,436.1 83.2,435.0 81.3,435.0 78.8,435.0 75.5,436.1 75.6,437.3 75.2,438.4 78.6,439.7 81.3,439.7 83.3,439.9 85.9,438.6" fill="#91debc" /><polygon points="65.6,444.6 67.0,446.0 71.0,444.0 75.5,441.5 74.9,439.5 70.0,441.0" fill="#91debc" /><polygon points="88.8,433.2 88.8,431.8 87.7,430.8 86.2,430.2 84.6,430.4 83.2,431.9 83.4,433.3 83.4,435.0 84.4,436.1 86.1,436.1 87.8,436.0 88.8,434.6" fill="#b5ead1" /><polygon points="28.3,467.0 30.0,472.0 36.0,475.0 44.0,476.5 47.0,472.0 48.3,466.0 43.0,463.5 35.0,466.0" fill="#a0e2c4" /><polygon points="60.8,470.5 60.5,468.1 59.0,465.1 54.5,465.4 51.9,465.2 50.5,467.1 49.7,469.4 50.5,472.6 52.5,474.8 54.7,474.4 59.3,474.7 61.3,472.4" fill="#a0e2c4" /><polygon points="73.4,459.9 72.8,458.1 71.3,456.9 68.3,456.6 67.3,457.2 64.7,457.8 64.9,460.2 65.1,461.4 66.5,462.7 69.4,462.6 71.4,462.4 73.1,461.6" fill="#b7ebd2" /><polygon points="77.3,462.6 77.5,461.3 76.3,459.7 75.0,459.6 73.6,459.4 72.6,460.4 72.7,462.5 72.8,464.4 73.4,465.3 75.1,465.6 76.2,465.7 77.0,464.1" fill="#afe7cd" /><polygon points="118.8,462.8 118.1,460.1 116.0,456.3 113.8,456.5 110.4,457.7 109.0,460.0 109.2,462.9 109.0,466.3 110.5,469.7 113.0,470.4 115.7,469.6 118.2,467.6" fill="#9ddfc1" /><polygon points="112.1,453.1 112.0,451.6 110.8,449.8 109.1,449.4 107.8,450.1 106.8,451.7 106.6,453.2 106.6,454.7 107.6,455.6 109.1,456.4 110.4,456.3 111.8,454.8" fill="#b1e7ce" /><polygon points="126.5,478.0 126.2,474.2 124.3,472.8 121.1,472.7 118.4,472.7 116.8,474.1 116.6,477.2 116.6,480.4 119.0,482.0 122.0,482.5 124.0,482.1 125.5,480.1" fill="#93d9bb" /><polygon points="135.6,487.0 136.0,485.0 134.7,482.3 132.9,481.4 131.8,482.2 130.1,484.4 129.7,488.0 129.7,489.5 131.2,491.8 133.0,493.1 135.0,492.4 135.5,489.5" fill="#9fdfc1" /><polygon points="96.9,473.5 97.1,470.5 94.9,466.9 93.2,467.5 91.2,466.8 89.1,469.4 88.8,473.2 89.2,476.5 90.6,479.3 92.9,478.9 95.4,478.3 96.8,476.8" fill="#b7e9d1" /><polygon points="92.4,493.8 92.5,492.3 90.2,490.9 88.4,491.2 86.4,491.3 84.3,492.5 84.5,494.3 83.9,495.2 86.2,497.1 88.0,496.7 90.6,496.8 92.3,495.7" fill="#b7e9d1" /><polygon points="73.1,480.5 72.7,478.6 71.7,477.0 68.7,476.9 66.6,476.8 65.2,478.4 64.9,480.7 65.1,482.2 66.2,484.1 69.4,484.1 71.0,484.4 72.8,482.3" fill="#b7e9d1" /></g><g id="dist2" stroke="#e9f8f0" stroke-width="0.3"><use href="#v0" fill="#ccf0de"/><use href="#v1" fill="#b0e6ca"/><use href="#v2" fill="#c8efdb"/><use href="#v3" fill="#e7f8ef"/><use href="#v4" fill="#dcf5e8"/><use href="#v5" fill="#c8efdb"/><use href="#v6" fill="#dbf4e7"/><use href="#v7" fill="#c4eed8"/><use href="#v8" fill="#e8f8f0"/><use href="#v9" fill="#b7e9cf"/><use href="#v10" fill="#b9e9d1"/><use href="#v11" fill="#e8f8f0"/><use href="#v12" fill="#d8f3e6"/><use href="#v13" fill="#def5e9"/><use href="#v14" fill="#d9f4e6"/><use href="#v15" fill="#baead2"/><use href="#v16" fill="#dbf4e7"/><use href="#v17" fill="#e0f6eb"/><use href="#v18" fill="#caefdc"/><use href="#v19" fill="#c0ecd6"/><use href="#v20" fill="#7fcfa6"/><use href="#v21" fill="#cff1e0"/><use href="#v22" fill="#e7f8f0"/><use href="#v23" fill="#c5eed9"/><use href="#v24" fill="#7fcfa6"/><use href="#v25" fill="#bfecd5"/><use href="#v26" fill="#d4f2e3"/><use href="#v27" fill="#e4f7ed"/><use href="#v28" fill="#d8f3e5"/><use href="#v29" fill="#e8f8f0"/><use href="#v30" fill="#c8efdb"/><use href="#v31" fill="#b6e8ce"/><use href="#v32" fill="#afe5c9"/><use href="#v33" fill="#d1f1e1"/><use href="#v34" fill="#ccf0de"/><use href="#v35" fill="#ddf5e9"/><use href="#v36" fill="#b6e8ce"/><use href="#v37" fill="#d0f1e0"/><use href="#v38" fill="#d3f2e2"/><use href="#v39" fill="#e8f8f0"/><use href="#v40" fill="#a0e2c0"/><use href="#v41" fill="#cdf0de"/><use href="#v42" fill="#def5ea"/><use href="#v43" fill="#80d0a8"/><use href="#v44" fill="#bfecd5"/><use href="#v45" fill="#e1f6eb"/><use href="#v46" fill="#c7eeda"/><use href="#v47" fill="#dbf4e8"/><use href="#v48" fill="#e5f7ee"/><use href="#v49" fill="#afe6ca"/><use href="#v50" fill="#e2f6ec"/><use href="#v51" fill="#bdebd3"/><use href="#v52" fill="#e3f7ed"/><use href="#v53" fill="#dff5ea"/><use href="#v54" fill="#cef1df"/><use href="#v55" fill="#ddf5e9"/><use href="#v56" fill="#e5f7ee"/><use href="#v57" fill="#e7f8ef"/><use href="#v58" fill="#c5eed9"/><use href="#v59" fill="#dff5ea"/><use href="#v60" fill="#c2edd7"/><use href="#v61" fill="#b9e9d1"/><use href="#v62" fill="#cbf0dd"/><use href="#v63" fill="#c8efdb"/><use href="#v64" fill="#e8f8f0"/><use href="#v65" fill="#c9efdc"/><use href="#v66" fill="#d1f1e1"/><use href="#v67" fill="#c6eeda"/><use href="#v68" fill="#d6f3e4"/><use href="#v69" fill="#e1f6ec"/><use href="#v70" fill="#e8f8f0"/><use href="#v71" fill="#cdf0de"/><use href="#v72" fill="#e5f7ee"/><use href="#v73" fill="#dcf4e8"/><use href="#v74" fill="#c5eed9"/><use href="#v75" fill="#ddf5e9"/><use href="#v76" fill="#e6f7ee"/><use href="#v77" fill="#def5ea"/><use href="#v78" fill="#e8f8f0"/><use href="#v79" fill="#8ed6b0"/><use href="#v80" fill="#aae3c6"/><use href="#v81" fill="#b0e6ca"/><use href="#v82" fill="#e8f8f0"/><use href="#v83" fill="#cff1df"/><use href="#v84" fill="#cbf0dd"/><use href="#v85" fill="#e3f7ed"/><use href="#v86" fill="#e3f7ed"/><use href="#v87" fill="#def5e9"/><use href="#v88" fill="#bdebd3"/><use href="#v89" fill="#d9f4e6"/><use href="#v90" fill="#e8f8f0"/><use href="#v91" fill="#ccf0de"/><use href="#v92" fill="#b3e7cc"/><use href="#v93" fill="#d6f3e4"/><use href="#v94" fill="#7ccca4"/><use href="#v95" fill="#d0f1e0"/><use href="#v96" fill="#e8f8f0"/><use href="#v97" fill="#b6e8cf"/><use href="#v98" fill="#e8f8f0"/><use href="#v99" fill="#cff1df"/><use href="#v100" fill="#d1f1e1"/><use href="#v101" fill="#d5f2e3"/><use href="#v102" fill="#daf4e7"/><use href="#v103" fill="#ccf0dd"/><use href="#v104" fill="#d0f1e0"/><use href="#v105" fill="#e8f8f0"/><use href="#v106" fill="#e2f6ec"/><use href="#v107" fill="#d4f2e3"/><use href="#v108" fill="#7ccca4"/><use href="#v109" fill="#d5f3e4"/><use href="#v110" fill="#d3f2e2"/><use href="#v111" fill="#cbf0dd"/><use href="#v112" fill="#dbf4e7"/><use href="#v113" fill="#b2e7cc"/><use href="#v114" fill="#c2edd7"/><use href="#v115" fill="#b6e8cf"/><use href="#v116" fill="#e3f6ec"/><use href="#v117" fill="#dcf4e8"/><use href="#v118" fill="#d9f4e6"/><use href="#v119" fill="#e7f8ef"/><use href="#v120" fill="#dcf5e8"/><use href="#v121" fill="#baead2"/><use href="#v122" fill="#e3f7ed"/><use href="#v123" fill="#d2f2e2"/><use href="#v124" fill="#a1e0c0"/><use href="#v125" fill="#d1f1e1"/><use href="#v126" fill="#cef0df"/><use href="#v127" fill="#d5f2e3"/><use href="#v128" fill="#def5e9"/><use href="#v129" fill="#4a9672"/><use href="#v130" fill="#d1f1e1"/><use href="#v131" fill="#ddf5e9"/><use href="#v132" fill="#cff1df"/><use href="#v133" fill="#d6f3e4"/><use href="#v134" fill="#cbf0dd"/><use href="#v135" fill="#b7e9cf"/><use href="#v136" fill="#ccf0de"/><use href="#v137" fill="#a3e4c3"/><use href="#v138" fill="#d6f3e4"/><use href="#v139" fill="#a8e2c4"/><use href="#v140" fill="#a0dfbf"/><use href="#v141" fill="#e4f7ed"/><use href="#v142" fill="#a3e4c3"/><use href="#v143" fill="#c7eeda"/><use href="#v144" fill="#a3e4c3"/><use href="#v145" fill="#a3e4c3"/><use href="#v146" fill="#a9e3c6"/><use href="#v147" fill="#d7f3e5"/><use href="#v148" fill="#d9f4e6"/><use href="#v149" fill="#c7efda"/><use href="#v150" fill="#dbf4e8"/><use href="#v151" fill="#dbf4e7"/><polygon points="80.5,431.2 81.1,432.9 83.2,433.1 83.6,435.8 86.2,437.5 88.9,435.8 90.0,434.3 89.3,431.6 88.1,429.7 85.1,430.5 83.6,430.5 81.9,430.1" fill="#3f8a67" /><polygon points="110.6,456.3 110.1,459.8 109.0,462.0 109.2,464.3 111.5,465.7 111.7,468.9 112.4,470.9 116.0,469.3 117.0,467.5 118.6,465.2 117.4,462.0 116.0,460.0 117.4,458.4 117.4,456.3 114.2,456.6" fill="#4a9672" /><polygon points="117.3,454.6 118.0,470.0 124.0,476.0 132.0,478.6 137.3,476.0 132.8,468.5 127.1,460.5 121.4,452.6" fill="#a3e4c3" /><polygon points="65.1,443.4 64.6,441.9 61.5,440.2 58.4,439.5 55.2,440.3 52.9,441.2 52.8,444.5 53.0,446.7 55.2,447.5 58.3,448.0 61.8,448.0 64.1,445.5" fill="#7fcfa6" /><polygon points="76.6,449.7 76.0,447.3 74.7,446.6 72.1,446.3 68.8,446.6 67.5,447.8 67.3,449.4 67.7,451.1 68.4,452.2 71.9,452.2 73.7,452.1 75.7,451.3" fill="#80d0a8" /><polygon points="73.5,443.6 73.5,441.7 72.2,441.1 70.0,440.7 68.1,441.1 67.1,441.7 67.3,443.6 67.0,444.7 68.4,445.3 69.9,445.8 72.1,445.7 73.6,444.3" fill="#95dcb8" /><polygon points="73.1,434.7 72.8,432.8 71.4,430.5 69.8,430.3 67.6,430.2 65.8,431.7 65.5,434.2 65.8,436.4 67.0,438.7 69.3,438.9 70.8,438.9 72.7,436.7" fill="#a0e2c0" /><polygon points="78.3,462.2 78.2,461.0 77.1,460.3 76.4,459.9 74.9,460.4 74.5,461.0 74.2,462.5 74.5,463.6 75.2,464.5 76.5,464.4 77.5,464.1 78.5,463.7" fill="#80d0a8" /><polygon points="96.4,465.2 97.3,466.8 100.5,466.1 102.8,465.7 106.5,466.6 107.6,464.8 107.4,462.5 105.6,462.3 102.8,462.9 98.3,463.4" fill="#63b38c" /><polygon points="99.0,474.4 98.6,471.9 96.1,467.5 94.0,468.4 91.2,467.8 89.9,470.4 88.8,475.5 89.3,478.0 91.6,481.7 94.5,482.3 97.0,481.0 98.3,478.7" fill="#7ccca4" /><polygon points="92.3,493.9 92.1,491.8 90.2,491.0 88.5,490.6 86.7,491.0 84.7,492.5 84.7,494.2 84.5,495.4 86.2,496.9 88.9,496.9 90.2,496.6 92.5,495.5" fill="#8ad4ae" /><polygon points="90.6,483.3 90.2,482.2 88.7,481.6 87.0,481.6 85.3,481.7 83.5,482.3 83.2,483.4 83.1,484.4 84.8,485.6 86.5,485.5 89.0,485.4 90.2,485.0" fill="#9bdcba" /><polygon points="85.6,468.4 85.5,467.1 84.2,464.7 83.1,465.0 81.8,465.3 80.4,467.2 80.2,468.2 80.2,470.8 81.9,472.1 83.1,472.4 84.6,472.2 85.6,470.0" fill="#8ed6b0" /></g><g id="dist3" stroke="#e9f8f0" stroke-width="0.3"><use href="#v0" fill="#c5eed9"/><use href="#v1" fill="#e6f7ef"/><use href="#v2" fill="#ccf0de"/><use href="#v3" fill="#e8f8f0"/><use href="#v4" fill="#c6eed9"/><use href="#v5" fill="#e8f8f0"/><use href="#v6" fill="#e4f7ed"/><use href="#v7" fill="#ddf5e8"/><use href="#v8" fill="#e8f8f0"/><use href="#v9" fill="#ccf0de"/><use href="#v10" fill="#e8f8f0"/><use href="#v11" fill="#e7f8f0"/><use href="#v12" fill="#dcf5e8"/><use href="#v13" fill="#ccf0dd"/><use href="#v14" fill="#dff6ea"/><use href="#v15" fill="#a5e1c3"/><use href="#v16" fill="#d5f2e3"/><use href="#v17" fill="#d8f3e6"/><use href="#v18" fill="#cef1df"/><use href="#v19" fill="#d6f3e4"/><use href="#v20" fill="#7fcfa6"/><use href="#v21" fill="#dcf4e8"/><use href="#v22" fill="#d2f2e1"/><use href="#v23" fill="#bdebd3"/><use href="#v24" fill="#7fcfa6"/><use href="#v25" fill="#c3edd8"/><use href="#v26" fill="#e8f8f0"/><use href="#v27" fill="#ccf0de"/><use href="#v28" fill="#d5f2e3"/><use href="#v29" fill="#b9e9d1"/><use href="#v30" fill="#bcebd3"/><use href="#v31" fill="#d3f2e2"/><use href="#v32" fill="#c3edd8"/><use href="#v33" fill="#d5f3e4"/><use href="#v34" fill="#def5ea"/><use href="#v35" fill="#d4f2e3"/><use href="#v36" fill="#c4edd8"/><use href="#v37" fill="#d0f1e0"/><use href="#v38" fill="#cbf0dd"/><use href="#v39" fill="#d7f3e5"/><use href="#v40" fill="#a0e2c0"/><use href="#v41" fill="#e4f7ed"/><use href="#v42" fill="#d4f2e3"/><use href="#v43" fill="#80d0a8"/><use href="#v44" fill="#e5f7ee"/><use href="#v45" fill="#b6e8cf"/><use href="#v46" fill="#caefdd"/><use href="#v47" fill="#baead1"/><use href="#v48" fill="#d5f2e3"/><use href="#v49" fill="#a5e1c3"/><use href="#v50" fill="#cdf0de"/><use href="#v51" fill="#cef0df"/><use href="#v52" fill="#d0f1e0"/><use href="#v53" fill="#e8f8f0"/><use href="#v54" fill="#b3e7cc"/><use href="#v55" fill="#caefdc"/><use href="#v56" fill="#d0f1e1"/><use href="#v57" fill="#e8f8f0"/><use href="#v58" fill="#beebd4"/><use href="#v59" fill="#daf4e7"/><use href="#v60" fill="#b5e8ce"/><use href="#v61" fill="#def5e9"/><use href="#v62" fill="#daf4e6"/><use href="#v63" fill="#9edfbe"/><use href="#v64" fill="#dff5ea"/><use href="#v65" fill="#daf4e7"/><use href="#v66" fill="#dcf5e8"/><use href="#v67" fill="#c7eeda"/><use href="#v68" fill="#e8f8f0"/><use href="#v69" fill="#e0f6eb"/><use href="#v70" fill="#e2f6ec"/><use href="#v71" fill="#a9e3c5"/><use href="#v72" fill="#bfecd5"/><use href="#v73" fill="#d3f2e2"/><use href="#v74" fill="#c9efdb"/><use href="#v75" fill="#e1f6eb"/><use href="#v76" fill="#e8f8f0"/><use href="#v77" fill="#e6f7ef"/><use href="#v78" fill="#cdf0de"/><use href="#v79" fill="#8ed6b0"/><use href="#v80" fill="#c7eeda"/><use href="#v81" fill="#c2edd7"/><use href="#v82" fill="#bfecd5"/><use href="#v83" fill="#d5f2e3"/><use href="#v84" fill="#dff5ea"/><use href="#v85" fill="#d3f2e2"/><use href="#v86" fill="#cef1df"/><use href="#v87" fill="#e8f8f0"/><use href="#v88" fill="#dcf4e8"/><use href="#v89" fill="#daf4e7"/><use href="#v90" fill="#e8f8f0"/><use href="#v91" fill="#afe5c9"/><use href="#v92" fill="#c1edd6"/><use href="#v93" fill="#daf4e7"/><use href="#v94" fill="#7ccca4"/><use href="#v95" fill="#e2f6ec"/><use href="#v96" fill="#e5f7ee"/><use href="#v97" fill="#aee5c9"/><use href="#v98" fill="#d5f3e4"/><use href="#v99" fill="#e7f8ef"/><use href="#v100" fill="#e8f8f0"/><use href="#v101" fill="#caefdc"/><use href="#v102" fill="#def5e9"/><use href="#v103" fill="#c9efdc"/><use href="#v104" fill="#ccf0dd"/><use href="#v105" fill="#d9f4e6"/><use href="#v106" fill="#d8f3e5"/><use href="#v107" fill="#ddf5e8"/><use href="#v108" fill="#7ccca4"/><use href="#v109" fill="#ddf5e9"/><use href="#v110" fill="#dbf4e7"/><use href="#v111" fill="#d3f2e2"/><use href="#v112" fill="#bbead2"/><use href="#v113" fill="#cff1df"/><use href="#v114" fill="#bcebd3"/><use href="#v115" fill="#c3edd8"/><use href="#v116" fill="#e3f7ed"/><use href="#v117" fill="#d3f2e2"/><use href="#v118" fill="#d5f3e4"/><use href="#v119" fill="#d3f2e2"/><use href="#v120" fill="#c3edd7"/><use href="#v121" fill="#afe5c9"/><use href="#v122" fill="#c9efdc"/><use href="#v123" fill="#b8e9d0"/><use href="#v124" fill="#c9efdc"/><use href="#v125" fill="#c8efdb"/><use href="#v126" fill="#e2f6ec"/><use href="#v127" fill="#d8f3e6"/><use href="#v128" fill="#e4f7ee"/><use href="#v129" fill="#4a9672"/><use href="#v130" fill="#d9f4e6"/><use href="#v131" fill="#c9efdb"/><use href="#v132" fill="#dff6ea"/><use href="#v133" fill="#cbf0dd"/><use href="#v134" fill="#b9ead1"/><use href="#v135" fill="#cef0df"/><use href="#v136" fill="#d0f1e0"/><use href="#v137" fill="#a3e4c3"/><use href="#v138" fill="#d2f2e1"/><use href="#v139" fill="#cef1df"/><use href="#v140" fill="#d0f1e0"/><use href="#v141" fill="#c3edd8"/><use href="#v142" fill="#a3e4c3"/><use href="#v143" fill="#c4eed8"/><use href="#v144" fill="#a3e4c3"/><use href="#v145" fill="#a3e4c3"/><use href="#v146" fill="#dff5ea"/><use href="#v147" fill="#def5e9"/><use href="#v148" fill="#b6e8ce"/><use href="#v149" fill="#d7f3e5"/><use href="#v150" fill="#c9efdc"/><use href="#v151" fill="#e8f8f0"/><polygon points="80.5,431.2 81.1,432.9 83.2,433.1 83.6,435.8 86.2,437.5 88.9,435.8 90.0,434.3 89.3,431.6 88.1,429.7 85.1,430.5 83.6,430.5 81.9,430.1" fill="#3f8a67" /><polygon points="110.6,456.3 110.1,459.8 109.0,462.0 109.2,464.3 111.5,465.7 111.7,468.9 112.4,470.9 116.0,469.3 117.0,467.5 118.6,465.2 117.4,462.0 116.0,460.0 117.4,458.4 117.4,456.3 114.2,456.6" fill="#4a9672" /><polygon points="117.3,454.6 118.0,470.0 124.0,476.0 132.0,478.6 137.3,476.0 132.8,468.5 127.1,460.5 121.4,452.6" fill="#a3e4c3" /><polygon points="65.1,443.4 64.6,441.9 61.5,440.2 58.4,439.5 55.2,440.3 52.9,441.2 52.8,444.5 53.0,446.7 55.2,447.5 58.3,448.0 61.8,448.0 64.1,445.5" fill="#7fcfa6" /><polygon points="76.6,449.7 76.0,447.3 74.7,446.6 72.1,446.3 68.8,446.6 67.5,447.8 67.3,449.4 67.7,451.1 68.4,452.2 71.9,452.2 73.7,452.1 75.7,451.3" fill="#80d0a8" /><polygon points="73.5,443.6 73.5,441.7 72.2,441.1 70.0,440.7 68.1,441.1 67.1,441.7 67.3,443.6 67.0,444.7 68.4,445.3 69.9,445.8 72.1,445.7 73.6,444.3" fill="#95dcb8" /><polygon points="73.1,434.7 72.8,432.8 71.4,430.5 69.8,430.3 67.6,430.2 65.8,431.7 65.5,434.2 65.8,436.4 67.0,438.7 69.3,438.9 70.8,438.9 72.7,436.7" fill="#a0e2c0" /><polygon points="78.3,462.2 78.2,461.0 77.1,460.3 76.4,459.9 74.9,460.4 74.5,461.0 74.2,462.5 74.5,463.6 75.2,464.5 76.5,464.4 77.5,464.1 78.5,463.7" fill="#80d0a8" /><polygon points="96.4,465.2 97.3,466.8 100.5,466.1 102.8,465.7 106.5,466.6 107.6,464.8 107.4,462.5 105.6,462.3 102.8,462.9 98.3,463.4" fill="#63b38c" /><polygon points="99.0,474.4 98.6,471.9 96.1,467.5 94.0,468.4 91.2,467.8 89.9,470.4 88.8,475.5 89.3,478.0 91.6,481.7 94.5,482.3 97.0,481.0 98.3,478.7" fill="#7ccca4" /><polygon points="92.3,493.9 92.1,491.8 90.2,491.0 88.5,490.6 86.7,491.0 84.7,492.5 84.7,494.2 84.5,495.4 86.2,496.9 88.9,496.9 90.2,496.6 92.5,495.5" fill="#8ad4ae" /><polygon points="90.6,483.3 90.2,482.2 88.7,481.6 87.0,481.6 85.3,481.7 83.5,482.3 83.2,483.4 83.1,484.4 84.8,485.6 86.5,485.5 89.0,485.4 90.2,485.0" fill="#9bdcba" /><polygon points="85.6,468.4 85.5,467.1 84.2,464.7 83.1,465.0 81.8,465.3 80.4,467.2 80.2,468.2 80.2,470.8 81.9,472.1 83.1,472.4 84.6,472.2 85.6,470.0" fill="#8ed6b0" /></g></defs>
<clipPath id="cpa"><rect x="54.5" y="21.5" width="267.0" height="248.0"/></clipPath>
<g clip-path="url(#cpa)">
<rect x="53.77" y="241.90" width="14.93" height="27.60" fill="#62d6da" />
<rect x="53.77" y="236.40" width="14.93" height="5.50" fill="#7173e1" />
<rect x="53.77" y="220.70" width="14.93" height="15.70" fill="#cd5782" />
<rect x="53.77" y="55.10" width="14.93" height="165.60" fill="#f1676b" />
<rect x="53.77" y="33.80" width="14.93" height="21.30" fill="#e9ae55" />
<rect x="53.77" y="28.20" width="14.93" height="5.60" fill="#ecdb4f" />
<rect x="53.77" y="24.30" width="14.93" height="3.90" fill="#84fcc0" />
<rect x="53.77" y="21.50" width="14.93" height="2.80" fill="#a8a8a8" />
<rect x="68.70" y="242.80" width="14.93" height="26.70" fill="#62d6da" />
<rect x="68.70" y="235.40" width="14.93" height="7.40" fill="#7173e1" />
<rect x="68.70" y="219.00" width="14.93" height="16.40" fill="#cd5782" />
<rect x="68.70" y="59.80" width="14.93" height="159.20" fill="#f1676b" />
<rect x="68.70" y="36.90" width="14.93" height="22.90" fill="#e9ae55" />
<rect x="68.70" y="30.10" width="14.93" height="6.80" fill="#ecdb4f" />
<rect x="68.70" y="24.90" width="14.93" height="5.20" fill="#84fcc0" />
<rect x="68.70" y="21.50" width="14.93" height="3.40" fill="#a8a8a8" />
<rect x="83.63" y="243.00" width="14.93" height="26.50" fill="#62d6da" />
<rect x="83.63" y="234.00" width="14.93" height="9.00" fill="#7173e1" />
<rect x="83.63" y="217.00" width="14.93" height="17.00" fill="#cd5782" />
<rect x="83.63" y="64.70" width="14.93" height="152.30" fill="#f1676b" />
<rect x="83.63" y="40.00" width="14.93" height="24.70" fill="#e9ae55" />
<rect x="83.63" y="31.60" width="14.93" height="8.40" fill="#ecdb4f" />
<rect x="83.63" y="25.80" width="14.93" height="5.80" fill="#84fcc0" />
<rect x="83.63" y="21.50" width="14.93" height="4.30" fill="#a8a8a8" />
<rect x="98.56" y="243.20" width="14.93" height="26.30" fill="#62d6da" />
<rect x="98.56" y="232.70" width="14.93" height="10.50" fill="#7173e1" />
<rect x="98.56" y="214.30" width="14.93" height="18.40" fill="#cd5782" />
<rect x="98.56" y="68.00" width="14.93" height="146.30" fill="#f1676b" />
<rect x="98.56" y="42.10" width="14.93" height="25.90" fill="#e9ae55" />
<rect x="98.56" y="32.00" width="14.93" height="10.10" fill="#ecdb4f" />
<rect x="98.56" y="25.80" width="14.93" height="6.20" fill="#84fcc0" />
<rect x="98.56" y="21.50" width="14.93" height="4.30" fill="#a8a8a8" />
<rect x="113.49" y="243.20" width="14.93" height="26.30" fill="#62d6da" />
<rect x="113.49" y="230.90" width="14.93" height="12.30" fill="#7173e1" />
<rect x="113.49" y="211.30" width="14.93" height="19.60" fill="#cd5782" />
<rect x="113.49" y="71.00" width="14.93" height="140.30" fill="#f1676b" />
<rect x="113.49" y="44.60" width="14.93" height="26.40" fill="#e9ae55" />
<rect x="113.49" y="32.20" width="14.93" height="12.40" fill="#ecdb4f" />
<rect x="113.49" y="25.00" width="14.93" height="7.20" fill="#84fcc0" />
<rect x="113.49" y="21.50" width="14.93" height="3.50" fill="#a8a8a8" />
<rect x="128.42" y="243.20" width="14.93" height="26.30" fill="#62d6da" />
<rect x="128.42" y="229.30" width="14.93" height="13.90" fill="#7173e1" />
<rect x="128.42" y="207.80" width="14.93" height="21.50" fill="#cd5782" />
<rect x="128.42" y="74.10" width="14.93" height="133.70" fill="#f1676b" />
<rect x="128.42" y="46.80" width="14.93" height="27.30" fill="#e9ae55" />
<rect x="128.42" y="32.60" width="14.93" height="14.20" fill="#ecdb4f" />
<rect x="128.42" y="24.80" width="14.93" height="7.80" fill="#84fcc0" />
<rect x="128.42" y="21.50" width="14.93" height="3.30" fill="#a8a8a8" />
<rect x="143.35" y="243.00" width="14.93" height="26.50" fill="#62d6da" />
<rect x="143.35" y="227.60" width="14.93" height="15.40" fill="#7173e1" />
<rect x="143.35" y="204.10" width="14.93" height="23.50" fill="#cd5782" />
<rect x="143.35" y="77.00" width="14.93" height="127.10" fill="#f1676b" />
<rect x="143.35" y="48.90" width="14.93" height="28.10" fill="#e9ae55" />
<rect x="143.35" y="32.80" width="14.93" height="16.10" fill="#ecdb4f" />
<rect x="143.35" y="24.40" width="14.93" height="8.40" fill="#84fcc0" />
<rect x="143.35" y="21.50" width="14.93" height="2.90" fill="#a8a8a8" />
<rect x="158.28" y="243.00" width="14.93" height="26.50" fill="#62d6da" />
<rect x="158.28" y="225.60" width="14.93" height="17.40" fill="#7173e1" />
<rect x="158.28" y="200.70" width="14.93" height="24.90" fill="#cd5782" />
<rect x="158.28" y="80.00" width="14.93" height="120.70" fill="#f1676b" />
<rect x="158.28" y="50.70" width="14.93" height="29.30" fill="#e9ae55" />
<rect x="158.28" y="33.00" width="14.93" height="17.70" fill="#ecdb4f" />
<rect x="158.28" y="24.20" width="14.93" height="8.80" fill="#84fcc0" />
<rect x="158.28" y="21.50" width="14.93" height="2.70" fill="#a8a8a8" />
<rect x="173.21" y="242.80" width="14.93" height="26.70" fill="#62d6da" />
<rect x="173.21" y="223.80" width="14.93" height="19.00" fill="#7173e1" />
<rect x="173.21" y="196.60" width="14.93" height="27.20" fill="#cd5782" />
<rect x="173.21" y="82.20" width="14.93" height="114.40" fill="#f1676b" />
<rect x="173.21" y="52.00" width="14.93" height="30.20" fill="#e9ae55" />
<rect x="173.21" y="33.00" width="14.93" height="19.00" fill="#ecdb4f" />
<rect x="173.21" y="23.80" width="14.93" height="9.20" fill="#84fcc0" />
<rect x="173.21" y="21.50" width="14.93" height="2.30" fill="#a8a8a8" />
<rect x="188.14" y="243.00" width="14.93" height="26.50" fill="#62d6da" />
<rect x="188.14" y="221.90" width="14.93" height="21.10" fill="#7173e1" />
<rect x="188.14" y="192.90" width="14.93" height="29.00" fill="#cd5782" />
<rect x="188.14" y="84.90" width="14.93" height="108.00" fill="#f1676b" />
<rect x="188.14" y="54.20" width="14.93" height="30.70" fill="#e9ae55" />
<rect x="188.14" y="32.90" width="14.93" height="21.30" fill="#ecdb4f" />
<rect x="188.14" y="23.60" width="14.93" height="9.30" fill="#84fcc0" />
<rect x="188.14" y="21.50" width="14.93" height="2.10" fill="#a8a8a8" />
<rect x="203.07" y="242.40" width="14.93" height="27.10" fill="#62d6da" />
<rect x="203.07" y="219.90" width="14.93" height="22.50" fill="#7173e1" />
<rect x="203.07" y="188.40" width="14.93" height="31.50" fill="#cd5782" />
<rect x="203.07" y="87.00" width="14.93" height="101.40" fill="#f1676b" />
<rect x="203.07" y="55.80" width="14.93" height="31.20" fill="#e9ae55" />
<rect x="203.07" y="32.90" width="14.93" height="22.90" fill="#ecdb4f" />
<rect x="203.07" y="23.50" width="14.93" height="9.40" fill="#84fcc0" />
<rect x="203.07" y="21.50" width="14.93" height="2.00" fill="#a8a8a8" />
<rect x="218.00" y="242.00" width="14.93" height="27.50" fill="#62d6da" />
<rect x="218.00" y="217.90" width="14.93" height="24.10" fill="#7173e1" />
<rect x="218.00" y="184.30" width="14.93" height="33.60" fill="#cd5782" />
<rect x="218.00" y="89.00" width="14.93" height="95.30" fill="#f1676b" />
<rect x="218.00" y="57.20" width="14.93" height="31.80" fill="#e9ae55" />
<rect x="218.00" y="32.80" width="14.93" height="24.40" fill="#ecdb4f" />
<rect x="218.00" y="23.30" width="14.93" height="9.50" fill="#84fcc0" />
<rect x="218.00" y="21.50" width="14.93" height="1.80" fill="#a8a8a8" />
<rect x="232.93" y="241.60" width="14.93" height="27.90" fill="#62d6da" />
<rect x="232.93" y="215.80" width="14.93" height="25.80" fill="#7173e1" />
<rect x="232.93" y="180.70" width="14.93" height="35.10" fill="#cd5782" />
<rect x="232.93" y="91.30" width="14.93" height="89.40" fill="#f1676b" />
<rect x="232.93" y="58.70" width="14.93" height="32.60" fill="#e9ae55" />
<rect x="232.93" y="32.70" width="14.93" height="26.00" fill="#ecdb4f" />
<rect x="232.93" y="23.10" width="14.93" height="9.60" fill="#84fcc0" />
<rect x="232.93" y="21.50" width="14.93" height="1.60" fill="#a8a8a8" />
<rect x="247.86" y="241.40" width="14.93" height="28.10" fill="#62d6da" />
<rect x="247.86" y="214.00" width="14.93" height="27.40" fill="#7173e1" />
<rect x="247.86" y="176.20" width="14.93" height="37.80" fill="#cd5782" />
<rect x="247.86" y="93.10" width="14.93" height="83.10" fill="#f1676b" />
<rect x="247.86" y="60.30" width="14.93" height="32.80" fill="#e9ae55" />
<rect x="247.86" y="32.50" width="14.93" height="27.80" fill="#ecdb4f" />
<rect x="247.86" y="22.80" width="14.93" height="9.70" fill="#84fcc0" />
<rect x="247.86" y="21.50" width="14.93" height="1.30" fill="#a8a8a8" />
<rect x="262.79" y="241.00" width="14.93" height="28.50" fill="#62d6da" />
<rect x="262.79" y="212.30" width="14.93" height="28.70" fill="#7173e1" />
<rect x="262.79" y="172.50" width="14.93" height="39.80" fill="#cd5782" />
<rect x="262.79" y="95.20" width="14.93" height="77.30" fill="#f1676b" />
<rect x="262.79" y="61.30" width="14.93" height="33.90" fill="#e9ae55" />
<rect x="262.79" y="32.30" width="14.93" height="29.00" fill="#ecdb4f" />
<rect x="262.79" y="22.60" width="14.93" height="9.70" fill="#84fcc0" />
<rect x="262.79" y="21.50" width="14.93" height="1.10" fill="#a8a8a8" />
<rect x="277.72" y="240.50" width="14.93" height="29.00" fill="#62d6da" />
<rect x="277.72" y="210.70" width="14.93" height="29.80" fill="#7173e1" />
<rect x="277.72" y="168.80" width="14.93" height="41.90" fill="#cd5782" />
<rect x="277.72" y="97.00" width="14.93" height="71.80" fill="#f1676b" />
<rect x="277.72" y="62.80" width="14.93" height="34.20" fill="#e9ae55" />
<rect x="277.72" y="32.30" width="14.93" height="30.50" fill="#ecdb4f" />
<rect x="277.72" y="22.50" width="14.93" height="9.80" fill="#84fcc0" />
<rect x="277.72" y="21.50" width="14.93" height="1.00" fill="#a8a8a8" />
<rect x="292.65" y="240.10" width="14.93" height="29.40" fill="#62d6da" />
<rect x="292.65" y="208.90" width="14.93" height="31.20" fill="#7173e1" />
<rect x="292.65" y="164.70" width="14.93" height="44.20" fill="#cd5782" />
<rect x="292.65" y="98.60" width="14.93" height="66.10" fill="#f1676b" />
<rect x="292.65" y="64.20" width="14.93" height="34.40" fill="#e9ae55" />
<rect x="292.65" y="32.10" width="14.93" height="32.10" fill="#ecdb4f" />
<rect x="292.65" y="22.40" width="14.93" height="9.70" fill="#84fcc0" />
<rect x="292.65" y="21.50" width="14.93" height="0.90" fill="#a8a8a8" />
<rect x="307.58" y="239.70" width="14.93" height="29.80" fill="#62d6da" />
<rect x="307.58" y="207.20" width="14.93" height="32.50" fill="#7173e1" />
<rect x="307.58" y="160.80" width="14.93" height="46.40" fill="#cd5782" />
<rect x="307.58" y="100.10" width="14.93" height="60.70" fill="#f1676b" />
<rect x="307.58" y="65.20" width="14.93" height="34.90" fill="#e9ae55" />
<rect x="307.58" y="31.80" width="14.93" height="33.40" fill="#ecdb4f" />
<rect x="307.58" y="22.30" width="14.93" height="9.50" fill="#84fcc0" />
<rect x="307.58" y="21.50" width="14.93" height="0.80" fill="#a8a8a8" />
<rect x="67.95" y="21.50" width="1.50" height="248.00" fill="#fff" />
<rect x="82.88" y="21.50" width="1.50" height="248.00" fill="#fff" />
<rect x="97.81" y="21.50" width="1.50" height="248.00" fill="#fff" />
<rect x="112.74" y="21.50" width="1.50" height="248.00" fill="#fff" />
<rect x="127.67" y="21.50" width="1.50" height="248.00" fill="#fff" />
<rect x="142.60" y="21.50" width="1.50" height="248.00" fill="#fff" />
<rect x="157.53" y="21.50" width="1.50" height="248.00" fill="#fff" />
<rect x="172.46" y="21.50" width="1.50" height="248.00" fill="#fff" />
<rect x="187.39" y="21.50" width="1.50" height="248.00" fill="#fff" />
<rect x="202.32" y="21.50" width="1.50" height="248.00" fill="#fff" />
<rect x="217.25" y="21.50" width="1.50" height="248.00" fill="#fff" />
<rect x="232.18" y="21.50" width="1.50" height="248.00" fill="#fff" />
<rect x="247.11" y="21.50" width="1.50" height="248.00" fill="#fff" />
<rect x="262.04" y="21.50" width="1.50" height="248.00" fill="#fff" />
<rect x="276.97" y="21.50" width="1.50" height="248.00" fill="#fff" />
<rect x="291.90" y="21.50" width="1.50" height="248.00" fill="#fff" />
<rect x="306.83" y="21.50" width="1.50" height="248.00" fill="#fff" />
</g>
<polyline fill="none" stroke="#000" stroke-width="2.7" stroke-linecap="square" points="60.60,60.10 64.92,62.72 69.24,65.32 73.57,67.89 77.89,70.45 82.21,72.98 86.53,75.49 90.85,77.97 95.18,80.44 99.50,82.89 103.82,85.31 108.14,87.71 112.46,90.09 116.79,92.46 121.11,94.80 125.43,97.11 129.75,99.41 134.07,101.69 138.40,103.95 142.72,106.19 147.04,108.40 151.36,110.60 155.68,112.77 160.01,114.93 164.33,117.07 168.65,119.18 172.97,121.28 177.29,123.36 181.62,125.41 185.94,127.45 190.26,129.47 194.58,131.47 198.91,133.45 203.23,135.41 207.55,137.35 211.87,139.27 216.19,141.17 220.52,143.06 224.84,144.92 229.16,146.77 233.48,148.60 237.80,150.41 242.13,152.20 246.45,153.97 250.77,155.73 255.09,157.47 259.41,159.19 263.74,160.89 268.06,162.57 272.38,164.24 276.70,165.88 281.02,167.51 285.35,169.13 289.67,170.72 293.99,172.30 298.31,173.86 302.63,175.40 306.96,176.93 311.28,178.44 315.60,179.93"/>
<rect x="54.5" y="21.5" width="267.0" height="248.0" fill="none" stroke="#262626" stroke-width="1"/>
<line x1="54.50" y1="269.50" x2="60.00" y2="269.50" stroke="#262626" stroke-width="1" />
<text x="48.90" y="274.55" text-anchor="end" font-size="13.33" font-weight="normal" fill="#000" >0</text>
<line x1="54.50" y1="219.50" x2="60.00" y2="219.50" stroke="#262626" stroke-width="1" />
<text x="48.90" y="224.95" text-anchor="end" font-size="13.33" font-weight="normal" fill="#000" >20</text>
<line x1="54.50" y1="170.50" x2="60.00" y2="170.50" stroke="#262626" stroke-width="1" />
<text x="48.90" y="175.35" text-anchor="end" font-size="13.33" font-weight="normal" fill="#000" >40</text>
<line x1="54.50" y1="120.50" x2="60.00" y2="120.50" stroke="#262626" stroke-width="1" />
<text x="48.90" y="125.75" text-anchor="end" font-size="13.33" font-weight="normal" fill="#000" >60</text>
<line x1="54.50" y1="71.50" x2="60.00" y2="71.50" stroke="#262626" stroke-width="1" />
<text x="48.90" y="76.15" text-anchor="end" font-size="13.33" font-weight="normal" fill="#000" >80</text>
<line x1="54.50" y1="21.50" x2="60.00" y2="21.50" stroke="#262626" stroke-width="1" />
<text x="48.90" y="26.55" text-anchor="end" font-size="13.33" font-weight="normal" fill="#000" >100</text>
<line x1="316.00" y1="269.50" x2="321.50" y2="269.50" stroke="#262626" stroke-width="1" />
<text x="327.50" y="274.55" text-anchor="start" font-size="13.33" font-weight="normal" fill="#000" >0</text>
<line x1="316.00" y1="219.50" x2="321.50" y2="219.50" stroke="#262626" stroke-width="1" />
<text x="327.50" y="224.95" text-anchor="start" font-size="13.33" font-weight="normal" fill="#000" >160</text>
<line x1="316.00" y1="170.50" x2="321.50" y2="170.50" stroke="#262626" stroke-width="1" />
<text x="327.50" y="175.35" text-anchor="start" font-size="13.33" font-weight="normal" fill="#000" >320</text>
<line x1="316.00" y1="120.50" x2="321.50" y2="120.50" stroke="#262626" stroke-width="1" />
<text x="327.50" y="125.75" text-anchor="start" font-size="13.33" font-weight="normal" fill="#000" >480</text>
<line x1="316.00" y1="71.50" x2="321.50" y2="71.50" stroke="#262626" stroke-width="1" />
<text x="327.50" y="76.15" text-anchor="start" font-size="13.33" font-weight="normal" fill="#000" >640</text>
<line x1="316.00" y1="21.50" x2="321.50" y2="21.50" stroke="#262626" stroke-width="1" />
<text x="327.50" y="26.55" text-anchor="start" font-size="13.33" font-weight="normal" fill="#000" >800</text>
<line x1="61.50" y1="269.50" x2="61.50" y2="264.00" stroke="#262626" stroke-width="1" />
<text x="61.23" y="284.70" text-anchor="middle" font-size="13.33" font-weight="normal" fill="#000" >2018</text>
<line x1="150.50" y1="269.50" x2="150.50" y2="264.00" stroke="#262626" stroke-width="1" />
<text x="150.81" y="284.70" text-anchor="middle" font-size="13.33" font-weight="normal" fill="#000" >2024</text>
<line x1="240.50" y1="269.50" x2="240.50" y2="264.00" stroke="#262626" stroke-width="1" />
<text x="240.40" y="284.70" text-anchor="middle" font-size="13.33" font-weight="normal" fill="#000" >2030</text>
<line x1="315.50" y1="269.50" x2="315.50" y2="264.00" stroke="#262626" stroke-width="1" />
<text x="315.04" y="284.70" text-anchor="middle" font-size="13.33" font-weight="normal" fill="#000" >2035</text>
<text x="188.30" y="298.30" text-anchor="middle" font-size="13.33" font-weight="normal" fill="#000" >Year</text>
<text transform="translate(22.2,145.3) rotate(-90)" text-anchor="middle" font-size="13.33">Ratio of different power source (%)</text>
<text transform="translate(366.4,145.2) rotate(-90)" text-anchor="middle" font-size="13.33">Life-cycle CO<tspan font-size="9.3" dy="2">2</tspan><tspan dy="-2"> emission (g/KWh)</tspan></text>
<text x="0.90" y="10.50" text-anchor="start" font-size="12.5" font-weight="bold" fill="#000" style="stroke:none">a</text>
<rect x="11.80" y="307.60" width="13.20" height="8.90" fill="#62d6da" />
<text x="29.60" y="317.10" text-anchor="start" font-size="13.33" font-weight="normal" fill="#000" >Hydro</text>
<rect x="86.20" y="307.60" width="13.20" height="8.90" fill="#7173e1" />
<text x="104.00" y="317.10" text-anchor="start" font-size="13.33" font-weight="normal" fill="#000" >Wind</text>
<rect x="149.30" y="307.60" width="13.20" height="8.90" fill="#cd5782" />
<text x="167.10" y="317.10" text-anchor="start" font-size="13.33" font-weight="normal" fill="#000" >Natural gas</text>
<rect x="249.10" y="307.60" width="13.20" height="8.90" fill="#f1676b" />
<text x="266.90" y="317.10" text-anchor="start" font-size="13.33" font-weight="normal" fill="#000" >Coal</text>
<rect x="307.50" y="307.60" width="13.20" height="8.90" fill="#a8a8a8" />
<text x="325.30" y="317.10" text-anchor="start" font-size="13.33" font-weight="normal" fill="#000" >Others</text>
<rect x="11.80" y="327.30" width="13.20" height="8.90" fill="#e9ae55" />
<text x="29.60" y="336.80" text-anchor="start" font-size="13.33" font-weight="normal" fill="#000" >Nuclear</text>
<rect x="86.20" y="327.30" width="13.20" height="8.90" fill="#ecdb4f" />
<text x="104.00" y="336.80" text-anchor="start" font-size="13.33" font-weight="normal" fill="#000" >Solar</text>
<rect x="149.30" y="327.30" width="13.20" height="8.90" fill="#84fcc0" />
<text x="167.10" y="336.80" text-anchor="start" font-size="13.33" font-weight="normal" fill="#000" >Biomass</text>
<line x1="249.10" y1="331.90" x2="262.00" y2="331.90" stroke="#000" stroke-width="3.2" />
<text x="266.4" y="336.8" font-size="13.33">CO<tspan font-size="9.3" dy="3.3">2</tspan><tspan dy="-3.3"> emission</tspan></text>
<rect x="443.5" y="24.5" width="181.0" height="111.1" fill="#fff"/>
<rect x="444.43" y="85.10" width="8.2" height="50.50" fill="#dddfde" stroke="#a4a4a4" stroke-width="0.9"/>
<rect x="454.48" y="82.20" width="8.2" height="53.40" fill="#dddfde" stroke="#a4a4a4" stroke-width="0.9"/>
<rect x="464.54" y="72.30" width="8.2" height="63.30" fill="#dddfde" stroke="#a4a4a4" stroke-width="0.9"/>
<rect x="474.59" y="72.30" width="8.2" height="63.30" fill="#dddfde" stroke="#a4a4a4" stroke-width="0.9"/>
<rect x="484.65" y="67.50" width="8.2" height="68.10" fill="#dddfde" stroke="#a4a4a4" stroke-width="0.9"/>
<rect x="494.71" y="94.20" width="8.2" height="41.40" fill="#dddfde" stroke="#a4a4a4" stroke-width="0.9"/>
<rect x="504.76" y="92.10" width="8.2" height="43.50" fill="#dddfde" stroke="#a4a4a4" stroke-width="0.9"/>
<rect x="514.82" y="91.40" width="8.2" height="44.20" fill="#dddfde" stroke="#a4a4a4" stroke-width="0.9"/>
<rect x="524.87" y="90.80" width="8.2" height="44.80" fill="#dddfde" stroke="#a4a4a4" stroke-width="0.9"/>
<rect x="534.93" y="90.20" width="8.2" height="45.40" fill="#dddfde" stroke="#a4a4a4" stroke-width="0.9"/>
<rect x="544.98" y="89.50" width="8.2" height="46.10" fill="#dddfde" stroke="#a4a4a4" stroke-width="0.9"/>
<rect x="555.04" y="88.90" width="8.2" height="46.70" fill="#dddfde" stroke="#a4a4a4" stroke-width="0.9"/>
<rect x="565.09" y="88.50" width="8.2" height="47.10" fill="#dddfde" stroke="#a4a4a4" stroke-width="0.9"/>
<rect x="575.15" y="88.20" width="8.2" height="47.40" fill="#dddfde" stroke="#a4a4a4" stroke-width="0.9"/>
<rect x="585.21" y="87.60" width="8.2" height="48.00" fill="#dddfde" stroke="#a4a4a4" stroke-width="0.9"/>
<rect x="595.26" y="87.40" width="8.2" height="48.20" fill="#dddfde" stroke="#a4a4a4" stroke-width="0.9"/>
<rect x="605.32" y="87.20" width="8.2" height="48.40" fill="#dddfde" stroke="#a4a4a4" stroke-width="0.9"/>
<rect x="615.37" y="86.40" width="8.2" height="49.20" fill="#dddfde" stroke="#a4a4a4" stroke-width="0.9"/>
<polyline fill="none" stroke="#cf5582" stroke-width="2.6" stroke-linejoin="miter" points="448.53,124.50 458.58,59.90 468.64,68.00 478.69,63.40 488.75,68.50 498.81,64.80 508.86,67.00 518.92,70.40 528.97,75.30 539.03,80.80 549.08,85.30 559.14,89.80 569.19,94.30 579.25,98.90 589.31,103.60 599.36,108.40 609.42,113.30 619.47,118.30"/>
<polyline fill="none" stroke="#000" stroke-width="2.6" stroke-dasharray="2.6 4.3" points="448.53,118.50 458.58,52.00 468.64,55.60 478.69,51.00 488.75,54.20 498.81,56.50 508.86,59.50 518.92,63.00 528.97,67.00 539.03,70.80 549.08,75.80 559.14,81.50 569.19,86.80 579.25,91.80 589.31,96.70 599.36,101.40 609.42,106.60 619.47,111.70"/>
<rect x="494.5" y="27.3" width="127.8" height="22.8" rx="2.5" fill="#fff" fill-opacity="0.8" stroke="#d4d4d4" stroke-width="1"/>
<line x1="499.20" y1="37.70" x2="510.50" y2="37.70" stroke="#000" stroke-width="2.6" stroke-dasharray="2.6 4.3"/>
<text x="518.20" y="42.00" text-anchor="start" font-size="13.33" font-weight="normal" fill="#000" >Before</text>
<line x1="569.60" y1="37.50" x2="585.20" y2="37.50" stroke="#cf5582" stroke-width="2.6" />
<text x="589.40" y="42.00" text-anchor="start" font-size="13.33" font-weight="normal" fill="#000" >After</text>
<rect x="443.5" y="24.5" width="181.0" height="111.1" fill="none" stroke="#262626" stroke-width="1"/>
<line x1="443.50" y1="135.50" x2="449.00" y2="135.50" stroke="#262626" stroke-width="1" />
<text x="437.80" y="140.65" text-anchor="end" font-size="13.33" font-weight="normal" fill="#000" >0</text>
<line x1="443.50" y1="107.50" x2="449.00" y2="107.50" stroke="#262626" stroke-width="1" />
<text x="437.80" y="112.87" text-anchor="end" font-size="13.33" font-weight="normal" fill="#000" >4</text>
<line x1="443.50" y1="80.50" x2="449.00" y2="80.50" stroke="#262626" stroke-width="1" />
<text x="437.80" y="85.10" text-anchor="end" font-size="13.33" font-weight="normal" fill="#000" >8</text>
<line x1="443.50" y1="52.50" x2="449.00" y2="52.50" stroke="#262626" stroke-width="1" />
<text x="437.80" y="57.33" text-anchor="end" font-size="13.33" font-weight="normal" fill="#000" >12</text>
<line x1="443.50" y1="24.50" x2="449.00" y2="24.50" stroke="#262626" stroke-width="1" />
<text x="437.80" y="29.55" text-anchor="end" font-size="13.33" font-weight="normal" fill="#000" >16</text>
<line x1="619.00" y1="135.50" x2="624.50" y2="135.50" stroke="#262626" stroke-width="1" />
<text x="630.60" y="140.65" text-anchor="start" font-size="13.33" font-weight="normal" fill="#000" >10</text>
<line x1="619.00" y1="107.50" x2="624.50" y2="107.50" stroke="#262626" stroke-width="1" />
<text x="630.60" y="112.87" text-anchor="start" font-size="13.33" font-weight="normal" fill="#000" >15</text>
<line x1="619.00" y1="80.50" x2="624.50" y2="80.50" stroke="#262626" stroke-width="1" />
<text x="630.60" y="85.10" text-anchor="start" font-size="13.33" font-weight="normal" fill="#000" >20</text>
<line x1="619.00" y1="52.50" x2="624.50" y2="52.50" stroke="#262626" stroke-width="1" />
<text x="630.60" y="57.32" text-anchor="start" font-size="13.33" font-weight="normal" fill="#000" >25</text>
<line x1="619.00" y1="24.50" x2="624.50" y2="24.50" stroke="#262626" stroke-width="1" />
<text x="630.60" y="29.55" text-anchor="start" font-size="13.33" font-weight="normal" fill="#000" >30</text>
<line x1="448.50" y1="135.60" x2="448.50" y2="130.10" stroke="#262626" stroke-width="1" />
<text x="448.53" y="151.20" text-anchor="middle" font-size="13.33" font-weight="normal" fill="#000" >2018</text>
<line x1="508.50" y1="135.60" x2="508.50" y2="130.10" stroke="#262626" stroke-width="1" />
<text x="508.86" y="151.20" text-anchor="middle" font-size="13.33" font-weight="normal" fill="#000" >2024</text>
<line x1="569.50" y1="135.60" x2="569.50" y2="130.10" stroke="#262626" stroke-width="1" />
<text x="569.19" y="151.20" text-anchor="middle" font-size="13.33" font-weight="normal" fill="#000" >2030</text>
<line x1="619.50" y1="135.60" x2="619.50" y2="130.10" stroke="#262626" stroke-width="1" />
<text x="619.47" y="151.20" text-anchor="middle" font-size="13.33" font-weight="normal" fill="#000" >2035</text>
<text x="534.00" y="164.80" text-anchor="middle" font-size="13.33" font-weight="normal" fill="#000" >Year</text>
<text transform="translate(401.2,81) rotate(-90)" text-anchor="middle" font-size="13.33">Preventable</text>
<text transform="translate(413.2,80) rotate(-90)" text-anchor="middle" font-size="13.33">emission (%)</text>
<text transform="translate(662.0,80) rotate(-90)" text-anchor="middle" font-size="13.33">CO<tspan font-size="9.3" dy="2">2</tspan><tspan dy="-2"> emission</tspan></text>
<text transform="translate(678.3,79.8) rotate(-90)" text-anchor="middle" font-size="13.33">(kg vehicle<tspan font-size="12.5" dy="-4.2" dx="0.5">−</tspan><tspan font-size="9.6" dy="-0.8">1</tspan><tspan dy="5"> yr</tspan><tspan font-size="12.5" dy="-4.2" dx="0.5">−</tspan><tspan font-size="9.6" dy="-0.8">1</tspan><tspan dy="5">)</tspan></text>
<text x="384.50" y="10.50" text-anchor="start" font-size="12.5" font-weight="bold" fill="#000" style="stroke:none">b</text>
<polygon fill="#e9ae4f" points="443.50,301.80 456.79,296.60 470.09,293.00 483.38,284.30 496.68,274.70 509.97,264.20 523.26,258.00 536.56,253.10 549.85,249.20 563.15,244.60 576.44,241.30 589.74,239.10 603.03,237.30 616.32,236.40 629.62,235.80 642.91,235.80 656.21,235.80 669.50,236.40 669.50,271.10 656.21,271.40 642.91,271.40 629.62,271.60 616.32,272.00 603.03,272.90 589.74,273.80 576.44,274.70 563.15,276.50 549.85,278.40 536.56,280.30 523.26,282.60 509.97,286.00 496.68,286.90 483.38,292.20 470.09,298.00 456.79,297.40 443.50,302.00"/>
<polygon fill="#f1676b" points="443.50,302.00 456.79,297.40 470.09,298.00 483.38,292.20 496.68,286.90 509.97,286.00 523.26,282.60 536.56,280.30 549.85,278.40 563.15,276.50 576.44,274.70 589.74,273.80 603.03,272.90 616.32,272.00 629.62,271.60 642.91,271.40 656.21,271.40 669.50,271.10 669.50,279.30 656.21,279.00 642.91,279.10 629.62,279.30 616.32,279.60 603.03,280.20 589.74,281.10 576.44,282.00 563.15,283.50 549.85,284.70 536.56,286.00 523.26,287.80 509.97,290.40 496.68,294.00 483.38,297.40 470.09,301.00 456.79,298.90 443.50,302.70"/>
<polygon fill="#7175e2" points="443.50,302.70 456.79,298.90 470.09,301.00 483.38,297.40 496.68,294.00 509.97,290.40 523.26,287.80 536.56,286.00 549.85,284.70 563.15,283.50 576.44,282.00 589.74,281.10 603.03,280.20 616.32,279.60 629.62,279.30 642.91,279.10 656.21,279.00 669.50,279.30 669.50,306.00 656.21,306.00 642.91,306.00 629.62,306.00 616.32,306.00 603.03,306.00 589.74,306.00 576.44,306.00 563.15,306.00 549.85,306.00 536.56,306.00 523.26,306.00 509.97,306.00 496.68,306.00 483.38,306.00 470.09,306.00 456.79,306.00 443.50,306.00"/>
<polyline fill="none" stroke="#000" stroke-width="2.6" stroke-dasharray="2.6 4.3" points="443.50,301.00 456.79,295.70 470.09,291.70 483.38,283.40 496.68,272.90 509.97,262.40 523.26,256.30 536.56,251.00 549.85,246.60 563.15,242.50 576.44,238.50 589.74,235.60 603.03,232.80 616.32,231.30 629.62,230.60 642.91,230.40 656.21,230.50 669.50,230.80"/>
<rect x="446.8" y="193.2" width="124" height="39.8" rx="2.5" fill="#fff" fill-opacity="0.8" stroke="#d4d4d4" stroke-width="1"/>
<line x1="451.20" y1="202.70" x2="462.50" y2="202.70" stroke="#000" stroke-width="2.6" stroke-dasharray="2.6 4.3"/>
<text x="468.50" y="207.10" text-anchor="start" font-size="13.33" font-weight="normal" fill="#000" >Before</text>
<rect x="516.00" y="198.60" width="13.00" height="8.30" fill="#f1676b" />
<text x="533.20" y="207.10" text-anchor="start" font-size="13.33" font-weight="normal" fill="#000" >Work</text>
<rect x="451.30" y="217.30" width="13.40" height="8.40" fill="#7175e2" />
<text x="468.50" y="225.90" text-anchor="start" font-size="13.33" font-weight="normal" fill="#000" >Home</text>
<rect x="516.00" y="217.30" width="13.00" height="8.40" fill="#e9ae4f" />
<text x="533.20" y="225.90" text-anchor="start" font-size="13.33" font-weight="normal" fill="#000" >Other</text>
<rect x="443.5" y="191.5" width="226.0" height="114.5" fill="none" stroke="#262626" stroke-width="1"/>
<line x1="443.50" y1="306.50" x2="449.00" y2="306.50" stroke="#262626" stroke-width="1" />
<text x="437.80" y="311.05" text-anchor="end" font-size="13.33" font-weight="normal" fill="#000" >0</text>
<line x1="443.50" y1="277.50" x2="449.00" y2="277.50" stroke="#262626" stroke-width="1" />
<text x="437.80" y="282.43" text-anchor="end" font-size="13.33" font-weight="normal" fill="#000" >20</text>
<line x1="443.50" y1="248.50" x2="449.00" y2="248.50" stroke="#262626" stroke-width="1" />
<text x="437.80" y="253.80" text-anchor="end" font-size="13.33" font-weight="normal" fill="#000" >40</text>
<line x1="443.50" y1="220.50" x2="449.00" y2="220.50" stroke="#262626" stroke-width="1" />
<text x="437.80" y="225.18" text-anchor="end" font-size="13.33" font-weight="normal" fill="#000" >60</text>
<line x1="443.50" y1="191.50" x2="449.00" y2="191.50" stroke="#262626" stroke-width="1" />
<text x="437.80" y="196.55" text-anchor="end" font-size="13.33" font-weight="normal" fill="#000" >80</text>
<line x1="443.50" y1="306.00" x2="443.50" y2="300.50" stroke="#262626" stroke-width="1" />
<text x="443.50" y="321.70" text-anchor="middle" font-size="13.33" font-weight="normal" fill="#000" >2018</text>
<line x1="523.50" y1="306.00" x2="523.50" y2="300.50" stroke="#262626" stroke-width="1" />
<text x="523.26" y="321.70" text-anchor="middle" font-size="13.33" font-weight="normal" fill="#000" >2024</text>
<line x1="603.50" y1="306.00" x2="603.50" y2="300.50" stroke="#262626" stroke-width="1" />
<text x="603.03" y="321.70" text-anchor="middle" font-size="13.33" font-weight="normal" fill="#000" >2030</text>
<line x1="669.50" y1="306.00" x2="669.50" y2="300.50" stroke="#262626" stroke-width="1" />
<text x="669.50" y="321.70" text-anchor="middle" font-size="13.33" font-weight="normal" fill="#000" >2035</text>
<text x="556.70" y="335.90" text-anchor="middle" font-size="13.33" font-weight="normal" fill="#000" >Year</text>
<text transform="translate(396.3,248.3) rotate(-90)" text-anchor="middle" font-size="13.33">Annual CO<tspan font-size="9.3" dy="2">2</tspan></text>
<text transform="translate(413.2,248.9) rotate(-90)" text-anchor="middle" font-size="13.33">emission (10<tspan font-size="9.3" dy="-5">3</tspan><tspan dy="5"> t)</tspan></text>
<text x="384.00" y="180.60" text-anchor="start" font-size="12.5" font-weight="bold" fill="#000" style="stroke:none">c</text>
<text x="1.00" y="358.70" text-anchor="start" font-size="12.5" font-weight="bold" fill="#000" style="stroke:none">d</text>
<g transform="translate(0.00,0)">
<rect x="5.6" y="369" width="155.8" height="155.1" fill="#f9f9f9" stroke="#474747" stroke-width="1"/>
<use href="#mapbase"/>
<use href="#dist0"/>
<text x="11.2" y="387.1" font-size="13.33">Reduced CO<tspan font-size="9.3" dy="3.3">2</tspan></text>
<text x="11.20" y="403.00" text-anchor="start" font-size="13.33" font-weight="normal" fill="#000" >emission (t)</text>
<rect x="14.5" y="415.3" width="4.8" height="43" fill="url(#cbar)" stroke="#4a4a4a" stroke-width="0.6"/>
<line x1="19.30" y1="415.30" x2="20.90" y2="415.30" stroke="#444" stroke-width="0.7" />
<text x="25.40" y="421.47" text-anchor="start" font-size="13.33" font-weight="normal" fill="#000" >10</text>
<line x1="19.30" y1="436.80" x2="20.90" y2="436.80" stroke="#444" stroke-width="0.7" />
<text x="25.40" y="441.97" text-anchor="start" font-size="13.33" font-weight="normal" fill="#000" >5</text>
<line x1="19.30" y1="458.30" x2="20.90" y2="458.30" stroke="#444" stroke-width="0.7" />
<text x="25.40" y="462.17" text-anchor="start" font-size="13.33" font-weight="normal" fill="#000" >0</text>
<text x="11.80" y="515.00" text-anchor="start" font-size="13.33" font-weight="normal" fill="#000" >2018</text>
<path d="M147.8,374.4 L139.1,396.8 L148,389.2 Z" fill="#fff" stroke="#000" stroke-width="0.6"/>
<path d="M147.8,374.4 L156.7,396.4 L148,389.2 Z" fill="#000" stroke="#000" stroke-width="0.6"/>
<text x="148.00" y="406.60" text-anchor="middle" font-size="13.33" font-weight="normal" fill="#000" >N</text>
<text x="102.80" y="508.60" text-anchor="middle" font-size="13.33" font-weight="normal" fill="#000" >0</text>
<text x="120.80" y="508.60" text-anchor="middle" font-size="13.33" font-weight="normal" fill="#000" >15</text>
<text x="137.30" y="508.60" text-anchor="middle" font-size="13.33" font-weight="normal" fill="#000" >30</text>
<rect x="103.00" y="512.80" width="17.20" height="3.40" fill="#000" />
<rect x="120.2" y="513.0" width="17" height="3.0" fill="#fff" stroke="#000" stroke-width="0.4"/>
<text x="139.20" y="520.60" text-anchor="start" font-size="13.33" font-weight="normal" fill="#000" >KM</text>
</g>
<g transform="translate(170.40,0)">
<rect x="5.6" y="369" width="155.8" height="155.1" fill="#f9f9f9" stroke="#474747" stroke-width="1"/>
<use href="#mapbase"/>
<use href="#dist1"/>
<text x="11.2" y="387.1" font-size="13.33">Reduced CO<tspan font-size="9.3" dy="3.3">2</tspan></text>
<text x="11.20" y="403.00" text-anchor="start" font-size="13.33" font-weight="normal" fill="#000" >emission (t)</text>
<rect x="14.5" y="415.3" width="4.8" height="43" fill="url(#cbar)" stroke="#4a4a4a" stroke-width="0.6"/>
<line x1="19.30" y1="415.30" x2="20.90" y2="415.30" stroke="#444" stroke-width="0.7" />
<text x="25.40" y="421.47" text-anchor="start" font-size="13.33" font-weight="normal" fill="#000" >200</text>
<line x1="19.30" y1="436.80" x2="20.90" y2="436.80" stroke="#444" stroke-width="0.7" />
<text x="25.40" y="441.97" text-anchor="start" font-size="13.33" font-weight="normal" fill="#000" >100</text>
<line x1="19.30" y1="458.30" x2="20.90" y2="458.30" stroke="#444" stroke-width="0.7" />
<text x="25.40" y="462.17" text-anchor="start" font-size="13.33" font-weight="normal" fill="#000" >0</text>
<text x="11.80" y="515.00" text-anchor="start" font-size="13.33" font-weight="normal" fill="#000" >2022</text>
<path d="M147.8,374.4 L139.1,396.8 L148,389.2 Z" fill="#fff" stroke="#000" stroke-width="0.6"/>
<path d="M147.8,374.4 L156.7,396.4 L148,389.2 Z" fill="#000" stroke="#000" stroke-width="0.6"/>
<text x="148.00" y="406.60" text-anchor="middle" font-size="13.33" font-weight="normal" fill="#000" >N</text>
<text x="102.80" y="508.60" text-anchor="middle" font-size="13.33" font-weight="normal" fill="#000" >0</text>
<text x="120.80" y="508.60" text-anchor="middle" font-size="13.33" font-weight="normal" fill="#000" >15</text>
<text x="137.30" y="508.60" text-anchor="middle" font-size="13.33" font-weight="normal" fill="#000" >30</text>
<rect x="103.00" y="512.80" width="17.20" height="3.40" fill="#000" />
<rect x="120.2" y="513.0" width="17" height="3.0" fill="#fff" stroke="#000" stroke-width="0.4"/>
<text x="139.20" y="520.60" text-anchor="start" font-size="13.33" font-weight="normal" fill="#000" >KM</text>
</g>
<g transform="translate(340.90,0)">
<rect x="5.6" y="369" width="155.8" height="155.1" fill="#f9f9f9" stroke="#474747" stroke-width="1"/>
<use href="#mapbase"/>
<use href="#dist2"/>
<text x="11.2" y="387.1" font-size="13.33">Reduced CO<tspan font-size="9.3" dy="3.3">2</tspan></text>
<text x="11.20" y="403.00" text-anchor="start" font-size="13.33" font-weight="normal" fill="#000" >emission (t)</text>
<rect x="14.5" y="415.3" width="4.8" height="43" fill="url(#cbar)" stroke="#4a4a4a" stroke-width="0.6"/>
<line x1="19.30" y1="415.30" x2="20.90" y2="415.30" stroke="#444" stroke-width="0.7" />
<text x="25.40" y="421.47" text-anchor="start" font-size="13.33" font-weight="normal" fill="#000" >150</text>
<line x1="19.30" y1="436.80" x2="20.90" y2="436.80" stroke="#444" stroke-width="0.7" />
<text x="25.40" y="441.97" text-anchor="start" font-size="13.33" font-weight="normal" fill="#000" >75</text>
<line x1="19.30" y1="458.30" x2="20.90" y2="458.30" stroke="#444" stroke-width="0.7" />
<text x="25.40" y="462.17" text-anchor="start" font-size="13.33" font-weight="normal" fill="#000" >0</text>
<text x="11.80" y="515.00" text-anchor="start" font-size="13.33" font-weight="normal" fill="#000" >2028</text>
<path d="M147.8,374.4 L139.1,396.8 L148,389.2 Z" fill="#fff" stroke="#000" stroke-width="0.6"/>
<path d="M147.8,374.4 L156.7,396.4 L148,389.2 Z" fill="#000" stroke="#000" stroke-width="0.6"/>
<text x="148.00" y="406.60" text-anchor="middle" font-size="13.33" font-weight="normal" fill="#000" >N</text>
<text x="102.80" y="508.60" text-anchor="middle" font-size="13.33" font-weight="normal" fill="#000" >0</text>
<text x="120.80" y="508.60" text-anchor="middle" font-size="13.33" font-weight="normal" fill="#000" >15</text>
<text x="137.30" y="508.60" text-anchor="middle" font-size="13.33" font-weight="normal" fill="#000" >30</text>
<rect x="103.00" y="512.80" width="17.20" height="3.40" fill="#000" />
<rect x="120.2" y="513.0" width="17" height="3.0" fill="#fff" stroke="#000" stroke-width="0.4"/>
<text x="139.20" y="520.60" text-anchor="start" font-size="13.33" font-weight="normal" fill="#000" >KM</text>
</g>
<g transform="translate(512.90,0)">
<rect x="5.6" y="369" width="155.8" height="155.1" fill="#f9f9f9" stroke="#474747" stroke-width="1"/>
<use href="#mapbase"/>
<use href="#dist3"/>
<text x="11.2" y="387.1" font-size="13.33">Reduced CO<tspan font-size="9.3" dy="3.3">2</tspan></text>
<text x="11.20" y="403.00" text-anchor="start" font-size="13.33" font-weight="normal" fill="#000" >emission (t)</text>
<rect x="14.5" y="415.3" width="4.8" height="43" fill="url(#cbar)" stroke="#4a4a4a" stroke-width="0.6"/>
<line x1="19.30" y1="415.30" x2="20.90" y2="415.30" stroke="#444" stroke-width="0.7" />
<text x="25.40" y="421.47" text-anchor="start" font-size="13.33" font-weight="normal" fill="#000" >180</text>
<line x1="19.30" y1="436.80" x2="20.90" y2="436.80" stroke="#444" stroke-width="0.7" />
<text x="25.40" y="441.97" text-anchor="start" font-size="13.33" font-weight="normal" fill="#000" >90</text>
<line x1="19.30" y1="458.30" x2="20.90" y2="458.30" stroke="#444" stroke-width="0.7" />
<text x="25.40" y="462.17" text-anchor="start" font-size="13.33" font-weight="normal" fill="#000" >0</text>
<text x="11.80" y="515.00" text-anchor="start" font-size="13.33" font-weight="normal" fill="#000" >2035</text>
<path d="M147.8,374.4 L139.1,396.8 L148,389.2 Z" fill="#fff" stroke="#000" stroke-width="0.6"/>
<path d="M147.8,374.4 L156.7,396.4 L148,389.2 Z" fill="#000" stroke="#000" stroke-width="0.6"/>
<text x="148.00" y="406.60" text-anchor="middle" font-size="13.33" font-weight="normal" fill="#000" >N</text>
<text x="102.80" y="508.60" text-anchor="middle" font-size="13.33" font-weight="normal" fill="#000" >0</text>
<text x="120.80" y="508.60" text-anchor="middle" font-size="13.33" font-weight="normal" fill="#000" >15</text>
<text x="137.30" y="508.60" text-anchor="middle" font-size="13.33" font-weight="normal" fill="#000" >30</text>
<rect x="103.00" y="512.80" width="17.20" height="3.40" fill="#000" />
<rect x="120.2" y="513.0" width="17" height="3.0" fill="#fff" stroke="#000" stroke-width="0.4"/>
<text x="139.20" y="520.60" text-anchor="start" font-size="13.33" font-weight="normal" fill="#000" >KM</text>
</g>
</svg></body></html>
